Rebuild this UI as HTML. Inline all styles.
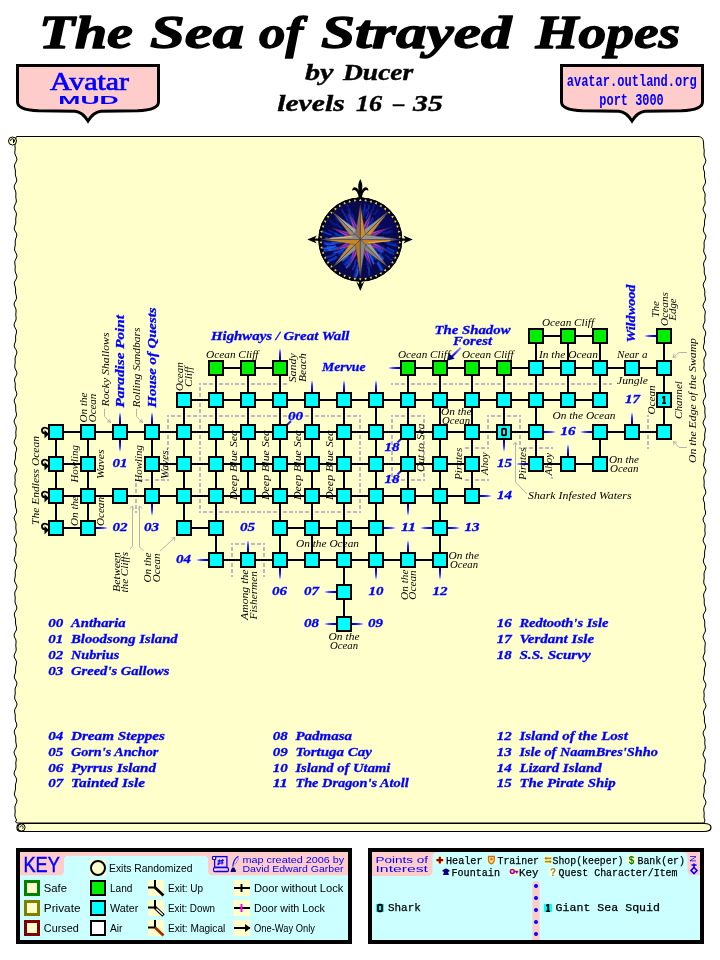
<!DOCTYPE html>
<html><head><meta charset="utf-8"><title>The Sea of Strayed Hopes</title>
<style>
html,body{margin:0;padding:0;background:#fff;}
body{width:720px;height:960px;overflow:hidden;font-family:"Liberation Serif",serif;}
svg{display:block;will-change:transform;}
</style></head><body>
<svg width="720" height="960" viewBox="0 0 720 960">
<defs>
<linearGradient id="gU" x1="0" y1="1" x2="0" y2="0"><stop offset="0" stop-color="#000090"/><stop offset="0.3" stop-color="#0000f0"/><stop offset="0.65" stop-color="#3838ff"/><stop offset="1" stop-color="#c8c8ff"/></linearGradient>
<linearGradient id="gD" x1="0" y1="0" x2="0" y2="1"><stop offset="0" stop-color="#000090"/><stop offset="0.3" stop-color="#0000f0"/><stop offset="0.65" stop-color="#3838ff"/><stop offset="1" stop-color="#c8c8ff"/></linearGradient>
<linearGradient id="gL" x1="1" y1="0" x2="0" y2="0"><stop offset="0" stop-color="#000090"/><stop offset="0.3" stop-color="#0000f0"/><stop offset="0.65" stop-color="#3838ff"/><stop offset="1" stop-color="#c8c8ff"/></linearGradient>
<linearGradient id="gR" x1="0" y1="0" x2="1" y2="0"><stop offset="0" stop-color="#000090"/><stop offset="0.3" stop-color="#0000f0"/><stop offset="0.65" stop-color="#3838ff"/><stop offset="1" stop-color="#c8c8ff"/></linearGradient>
</defs>
<rect width="720" height="960" fill="#fff"/>

<text x="39" y="47.8" font-size="46.5" font-family="Liberation Serif, serif" fill="#000" font-weight="bold" font-style="italic" textLength="94" lengthAdjust="spacingAndGlyphs" stroke="#000" stroke-width="1.3" stroke-linejoin="round">The</text>
<text x="150" y="47.8" font-size="46.5" font-family="Liberation Serif, serif" fill="#000" font-weight="bold" font-style="italic" textLength="94" lengthAdjust="spacingAndGlyphs" stroke="#000" stroke-width="1.3" stroke-linejoin="round">Sea</text>
<text x="259" y="47.8" font-size="46.5" font-family="Liberation Serif, serif" fill="#000" font-weight="bold" font-style="italic" textLength="44" lengthAdjust="spacingAndGlyphs" stroke="#000" stroke-width="1.3" stroke-linejoin="round">of</text>
<text x="321" y="47.8" font-size="46.5" font-family="Liberation Serif, serif" fill="#000" font-weight="bold" font-style="italic" textLength="190.5" lengthAdjust="spacingAndGlyphs" stroke="#000" stroke-width="1.3" stroke-linejoin="round">Strayed</text>
<text x="535.5" y="47.8" font-size="46.5" font-family="Liberation Serif, serif" fill="#000" font-weight="bold" font-style="italic" textLength="144.5" lengthAdjust="spacingAndGlyphs" stroke="#000" stroke-width="1.3" stroke-linejoin="round">Hopes</text>
<text x="305" y="80" font-size="23" font-family="Liberation Serif, serif" fill="#000" font-weight="bold" font-style="italic" textLength="28.5" lengthAdjust="spacingAndGlyphs" stroke="#000" stroke-width="0.4">by</text>
<text x="343" y="80" font-size="23" font-family="Liberation Serif, serif" fill="#000" font-weight="bold" font-style="italic" textLength="70.3" lengthAdjust="spacingAndGlyphs" stroke="#000" stroke-width="0.4">Ducer</text>
<text x="277.2" y="111" font-size="23" font-family="Liberation Serif, serif" fill="#000" font-weight="bold" font-style="italic" textLength="67.5" lengthAdjust="spacingAndGlyphs" stroke="#000" stroke-width="0.4">levels</text>
<text x="356" y="111" font-size="23" font-family="Liberation Serif, serif" fill="#000" font-weight="bold" font-style="italic" textLength="26.2" lengthAdjust="spacingAndGlyphs" stroke="#000" stroke-width="0.4">16</text>
<text x="393.3" y="111" font-size="23" font-family="Liberation Serif, serif" fill="#000" font-weight="bold" font-style="italic" textLength="11.1" lengthAdjust="spacingAndGlyphs" stroke="#000" stroke-width="0.4">–</text>
<text x="413" y="111" font-size="23" font-family="Liberation Serif, serif" fill="#000" font-weight="bold" font-style="italic" textLength="29.8" lengthAdjust="spacingAndGlyphs" stroke="#000" stroke-width="0.4">35</text>
<path d="M17.5,65.5 L158.5,65.5 L158.5,102 C158.5,108 149.5,110.3 137.5,110.8 L101,111.3 C95,111.8 91.5,115.5 88,121 C84.5,115.5 81,111.8 75,111.3 L38.5,110.8 C26.5,110.3 17.5,108 17.5,102 Z" fill="#ffcccc" stroke="#000" stroke-width="3" stroke-linejoin="miter"/>
<path d="M561.5,65.5 L702.5,65.5 L702.5,102 C702.5,108 693.5,110.3 681.5,110.8 L645,111.3 C639,111.8 635.5,115.5 632,121 C628.5,115.5 625,111.8 619,111.3 L582.5,110.8 C570.5,110.3 561.5,108 561.5,102 Z" fill="#ffcccc" stroke="#000" stroke-width="3" stroke-linejoin="miter"/>
<text x="50" y="89.6" font-size="24.5" font-family="Liberation Serif, serif" fill="#0000ff" textLength="79" lengthAdjust="spacingAndGlyphs" stroke="#0000ff" stroke-width="0.7">Avatar</text>
<text x="58.3" y="103.6" font-size="10.8" font-family="Liberation Sans, sans-serif" fill="#0000ff" font-weight="bold" textLength="60.5" lengthAdjust="spacingAndGlyphs" >MUD</text>
<text x="566.7" y="85.8" font-size="17" font-family="Liberation Mono, monospace" fill="#0000ff" font-weight="bold" textLength="130" lengthAdjust="spacingAndGlyphs" >avatar.outland.org</text>
<text x="599.3" y="105" font-size="17" font-family="Liberation Mono, monospace" fill="#0000ff" font-weight="bold" textLength="64.5" lengthAdjust="spacingAndGlyphs" >port 3000</text>
<path d="M17,136.5 L698,136.5 Q703,136.5 703.5,142 L703.7,146.0 L703.8,148.0 L704.2,150.0 L704.2,152.0 L704.0,154.0 L704.2,156.0 L705.0,158.0 L705.8,160.0 L705.7,162.0 L704.7,164.0 L703.6,166.0 L703.3,168.0 L703.8,170.0 L704.5,172.0 L704.6,174.0 L704.5,176.0 L704.8,178.0 L705.4,180.0 L705.6,182.0 L705.0,184.0 L703.8,186.0 L703.0,188.0 L703.4,190.0 L704.4,192.0 L705.1,194.0 L705.1,196.0 L704.8,198.0 L704.9,200.0 L705.2,202.0 L705.0,204.0 L704.1,206.0 L703.2,208.0 L703.1,210.0 L704.1,212.0 L705.2,214.0 L705.6,216.0 L705.2,218.0 L704.7,220.0 L704.5,222.0 L704.6,224.0 L704.3,226.0 L703.6,228.0 L703.3,230.0 L703.8,232.0 L705.0,234.0 L705.9,236.0 L705.7,238.0 L704.8,240.0 L704.1,242.0 L704.1,244.0 L704.2,246.0 L704.1,248.0 L703.7,250.0 L703.8,252.0 L704.7,254.0 L705.7,256.0 L705.9,258.0 L705.1,260.0 L704.0,262.0 L703.5,264.0 L703.8,266.0 L704.3,268.0 L704.3,270.0 L704.2,272.0 L704.5,274.0 L705.3,276.0 L705.8,278.0 L705.4,280.0 L704.2,282.0 L703.3,284.0 L703.3,286.0 L704.1,288.0 L704.7,290.0 L704.8,292.0 L704.7,294.0 L704.9,296.0 L705.4,298.0 L705.4,300.0 L704.5,302.0 L703.4,304.0 L703.0,306.0 L703.7,308.0 L704.8,310.0 L705.3,312.0 L705.1,314.0 L704.8,316.0 L704.8,318.0 L705.0,320.0 L704.7,322.0 L703.8,324.0 L703.1,326.0 L703.4,328.0 L704.6,330.0 L705.6,332.0 L705.7,334.0 L705.0,336.0 L704.4,338.0 L704.4,340.0 L704.5,342.0 L704.1,344.0 L703.5,346.0 L703.4,348.0 L704.3,350.0 L705.5,352.0 L706.0,354.0 L705.4,356.0 L704.4,358.0 L703.8,360.0 L704.0,362.0 L704.2,364.0 L704.1,366.0 L703.8,368.0 L704.2,370.0 L705.1,372.0 L705.9,374.0 L705.7,376.0 L704.6,378.0 L703.6,380.0 L703.4,382.0 L703.9,384.0 L704.4,386.0 L704.4,388.0 L704.4,390.0 L704.8,392.0 L705.5,394.0 L705.7,396.0 L705.0,398.0 L703.7,400.0 L703.1,402.0 L703.5,404.0 L704.4,406.0 L705.0,408.0 L704.9,410.0 L704.8,412.0 L705.0,414.0 L705.3,416.0 L705.1,418.0 L704.1,420.0 L703.1,422.0 L703.2,424.0 L704.2,426.0 L705.2,428.0 L705.5,430.0 L705.1,432.0 L704.7,434.0 L704.7,436.0 L704.8,438.0 L704.3,440.0 L703.5,442.0 L703.2,444.0 L703.8,446.0 L705.1,448.0 L705.8,450.0 L705.5,452.0 L704.7,454.0 L704.2,456.0 L704.3,458.0 L704.3,460.0 L704.0,462.0 L703.5,464.0 L703.7,466.0 L704.7,468.0 L705.8,470.0 L705.9,472.0 L705.0,474.0 L704.0,476.0 L703.7,478.0 L704.0,480.0 L704.2,482.0 L704.1,484.0 L704.0,486.0 L704.5,488.0 L705.4,490.0 L705.9,492.0 L705.4,494.0 L704.1,496.0 L703.3,498.0 L703.4,500.0 L704.2,502.0 L704.6,504.0 L704.6,506.0 L704.6,508.0 L705.0,510.0 L705.6,512.0 L705.5,514.0 L704.5,516.0 L703.3,518.0 L703.1,520.0 L703.8,522.0 L704.8,524.0 L705.2,526.0 L705.0,528.0 L704.8,530.0 L705.0,532.0 L705.2,534.0 L704.7,536.0 L703.7,538.0 L703.0,540.0 L703.5,542.0 L704.6,544.0 L705.5,546.0 L705.5,548.0 L704.9,550.0 L704.6,552.0 L704.6,554.0 L704.6,556.0 L704.1,558.0 L703.4,560.0 L703.4,562.0 L704.3,564.0 L705.5,566.0 L705.9,568.0 L705.3,570.0 L704.4,572.0 L704.0,574.0 L704.1,576.0 L704.2,578.0 L703.9,580.0 L703.7,582.0 L704.1,584.0 L705.2,586.0 L706.0,588.0 L705.7,590.0 L704.6,592.0 L703.7,594.0 L703.6,596.0 L704.0,598.0 L704.3,600.0 L704.2,602.0 L704.3,604.0 L704.8,606.0 L705.6,608.0 L705.8,610.0 L704.9,612.0 L703.7,614.0 L703.2,616.0 L703.6,618.0 L704.4,620.0 L704.8,622.0 L704.7,624.0 L704.7,626.0 L705.1,628.0 L705.5,630.0 L705.1,632.0 L704.0,634.0 L703.1,636.0 L703.2,638.0 L704.2,640.0 L705.1,642.0 L705.3,644.0 L705.0,646.0 L704.8,648.0 L704.9,650.0 L704.9,652.0 L704.3,654.0 L703.4,656.0 L703.1,658.0 L703.9,660.0 L705.1,662.0 L705.7,664.0 L705.4,666.0 L704.7,668.0 L704.4,670.0 L704.4,672.0 L704.4,674.0 L703.9,676.0 L703.4,678.0 L703.7,680.0 L704.8,682.0 L705.8,684.0 L705.8,686.0 L705.0,688.0 L704.1,690.0 L703.8,692.0 L704.1,694.0 L704.2,696.0 L703.9,698.0 L703.9,700.0 L704.5,702.0 L705.5,704.0 L706.0,706.0 L705.3,708.0 L704.1,710.0 L703.4,712.0 L703.6,714.0 L704.2,716.0 L704.5,718.0 L704.4,720.0 L704.5,722.0 L705.1,724.0 L705.7,726.0 L705.5,728.0 L704.4,730.0 L703.3,732.0 L703.1,734.0 L703.9,736.0 L704.7,738.0 L705.0,740.0 L704.8,742.0 L704.8,744.0 L705.2,746.0 L705.3,748.0 L704.7,750.0 L703.6,752.0 L703.0,754.0 L703.5,756.0 L704.7,758.0 L705.4,760.0 L705.3,762.0 L704.9,764.0 L704.7,766.0 L704.8,768.0 L704.7,770.0 L704.0,772.0 L703.2,774.0 L703.3,776.0 L704.4,778.0 L705.5,780.0 L705.8,782.0 L705.2,784.0 L704.4,786.0 L704.2,788.0 L704.3,790.0 L704.2,792.0 L703.7,794.0 L703.5,796.0 L704.1,798.0 L705.3,800.0 L706.0,802.0 L705.6,804.0 L704.5,806.0 L703.8,808.0 L703.7,810.0 L704.1,812.0 L704.2,814.0 L704.0,816.0 L704.1,818.0 L704.9,820.0 L704.5,822.0 L704,823 L17,823 L15.5,822.0 L16.6,820.0 L15.6,818.0 L14.9,816.0 L14.9,814.0 L15.2,812.0 L15.1,810.0 L14.9,808.0 L15.0,806.0 L15.8,804.0 L16.8,802.0 L16.9,800.0 L15.9,798.0 L14.8,796.0 L14.3,794.0 L14.8,792.0 L15.3,790.0 L15.5,788.0 L15.4,786.0 L15.6,784.0 L16.3,782.0 L16.7,780.0 L16.2,778.0 L15.0,776.0 L14.1,774.0 L14.3,772.0 L15.2,770.0 L15.9,768.0 L16.0,766.0 L15.8,764.0 L15.9,762.0 L16.3,760.0 L16.2,758.0 L15.3,756.0 L14.3,754.0 L14.0,752.0 L14.9,750.0 L16.0,748.0 L16.5,746.0 L16.2,744.0 L15.8,742.0 L15.7,740.0 L15.8,738.0 L15.5,736.0 L14.7,734.0 L14.2,732.0 L14.6,730.0 L15.8,728.0 L16.7,726.0 L16.7,724.0 L15.9,722.0 L15.3,720.0 L15.2,718.0 L15.3,716.0 L15.1,714.0 L14.6,712.0 L14.6,710.0 L15.5,708.0 L16.6,706.0 L17.0,704.0 L16.3,702.0 L15.2,700.0 L14.6,698.0 L14.8,696.0 L15.2,694.0 L15.2,692.0 L15.0,690.0 L15.3,688.0 L16.2,686.0 L16.9,684.0 L16.6,682.0 L15.5,680.0 L14.4,678.0 L14.3,676.0 L15.0,674.0 L15.6,672.0 L15.6,670.0 L15.6,668.0 L15.9,666.0 L16.4,664.0 L16.6,662.0 L15.8,660.0 L14.6,658.0 L14.0,656.0 L14.6,654.0 L15.6,652.0 L16.2,650.0 L16.1,648.0 L15.8,646.0 L15.9,644.0 L16.1,642.0 L15.9,640.0 L14.9,638.0 L14.1,636.0 L14.3,634.0 L15.3,632.0 L16.4,630.0 L16.6,628.0 L16.1,626.0 L15.6,624.0 L15.5,622.0 L15.6,620.0 L15.2,618.0 L14.5,616.0 L14.3,614.0 L15.0,612.0 L16.2,610.0 L16.9,608.0 L16.5,606.0 L15.6,604.0 L15.0,602.0 L15.1,600.0 L15.2,598.0 L15.0,596.0 L14.7,594.0 L14.9,592.0 L15.9,590.0 L16.8,588.0 L16.9,586.0 L15.9,584.0 L14.8,582.0 L14.5,580.0 L14.9,578.0 L15.3,576.0 L15.3,574.0 L15.2,572.0 L15.6,570.0 L16.5,568.0 L16.8,566.0 L16.2,564.0 L15.0,562.0 L14.2,560.0 L14.4,558.0 L15.2,556.0 L15.8,554.0 L15.8,552.0 L15.7,550.0 L16.0,548.0 L16.4,546.0 L16.3,544.0 L15.3,542.0 L14.2,540.0 L14.1,538.0 L14.9,536.0 L16.0,534.0 L16.4,532.0 L16.1,530.0 L15.8,528.0 L15.9,526.0 L16.0,524.0 L15.5,522.0 L14.6,520.0 L14.1,518.0 L14.6,516.0 L15.8,514.0 L16.7,512.0 L16.6,510.0 L15.9,508.0 L15.4,506.0 L15.4,504.0 L15.4,502.0 L15.0,500.0 L14.5,498.0 L14.5,496.0 L15.5,494.0 L16.6,492.0 L16.9,490.0 L16.2,488.0 L15.2,486.0 L14.8,484.0 L15.0,482.0 L15.2,480.0 L15.0,478.0 L14.9,476.0 L15.3,474.0 L16.3,472.0 L16.9,470.0 L16.6,468.0 L15.4,466.0 L14.5,464.0 L14.5,462.0 L15.0,460.0 L15.5,458.0 L15.4,456.0 L15.4,454.0 L15.9,452.0 L16.6,450.0 L16.6,448.0 L15.7,446.0 L14.5,444.0 L14.1,442.0 L14.7,440.0 L15.6,438.0 L16.0,436.0 L15.9,434.0 L15.8,432.0 L16.1,430.0 L16.3,428.0 L15.9,426.0 L14.9,424.0 L14.1,422.0 L14.3,420.0 L15.4,418.0 L16.3,416.0 L16.5,414.0 L16.0,412.0 L15.7,410.0 L15.7,408.0 L15.7,406.0 L15.2,404.0 L14.4,402.0 L14.2,400.0 L15.1,398.0 L16.3,396.0 L16.9,394.0 L16.4,392.0 L15.6,390.0 L15.2,388.0 L15.2,386.0 L15.3,384.0 L14.9,382.0 L14.5,380.0 L14.9,378.0 L16.0,376.0 L16.9,374.0 L16.8,372.0 L15.8,370.0 L14.9,368.0 L14.7,366.0 L15.0,364.0 L15.2,362.0 L15.1,360.0 L15.1,358.0 L15.7,356.0 L16.6,354.0 L16.9,352.0 L16.2,350.0 L14.9,348.0 L14.2,346.0 L14.5,344.0 L15.3,342.0 L15.7,340.0 L15.6,338.0 L15.6,336.0 L16.1,334.0 L16.6,332.0 L16.3,330.0 L15.2,328.0 L14.2,326.0 L14.1,324.0 L15.0,322.0 L15.9,320.0 L16.2,318.0 L15.9,316.0 L15.8,314.0 L16.0,312.0 L16.1,310.0 L15.5,308.0 L14.5,306.0 L14.0,304.0 L14.7,302.0 L15.9,300.0 L16.6,298.0 L16.4,296.0 L15.8,294.0 L15.5,292.0 L15.6,290.0 L15.5,288.0 L14.9,286.0 L14.3,284.0 L14.5,282.0 L15.6,280.0 L16.7,278.0 L16.9,276.0 L16.1,274.0 L15.3,272.0 L15.0,270.0 L15.2,268.0 L15.2,266.0 L14.9,264.0 L14.7,262.0 L15.3,260.0 L16.4,258.0 L17.0,256.0 L16.5,254.0 L15.4,252.0 L14.6,250.0 L14.6,248.0 L15.1,246.0 L15.3,244.0 L15.2,242.0 L15.3,240.0 L16.0,238.0 L16.7,236.0 L16.7,234.0 L15.7,232.0 L14.5,230.0 L14.2,228.0 L14.8,226.0 L15.6,224.0 L15.8,222.0 L15.7,220.0 L15.8,218.0 L16.2,216.0 L16.5,214.0 L15.9,212.0 L14.8,210.0 L14.0,208.0 L14.4,206.0 L15.4,204.0 L16.3,202.0 L16.3,200.0 L15.9,198.0 L15.8,196.0 L15.9,194.0 L15.8,192.0 L15.1,190.0 L14.3,188.0 L14.2,186.0 L15.1,184.0 L16.3,182.0 L16.8,180.0 L16.3,178.0 L15.6,176.0 L15.3,174.0 L15.4,172.0 L15.3,170.0 L14.8,168.0 L14.4,166.0 L14.9,164.0 L16.0,162.0 L16.9,160.0 L16.7,158.0 L15.8,156.0 L14.9,154.0 L14.8,152.0 L15.1,150.0 L15.2,148.0 L14.9,146.0 L16,137 Z" fill="#ffffcc" stroke="#000" stroke-width="1"/>
<circle cx="12.5" cy="141" r="4" fill="#ffffcc" stroke="#000" stroke-width="1"/>
<path d="M10.5,141 a2,2 0 1,1 3,1.5 M13.5,139.5 L13.5,143" fill="none" stroke="#000" stroke-width="1"/>
<path d="M21,823.5 L704,823.5 Q711,823.5 711,827.5 Q711,831.5 704,831.5 L21,831.5 Q17,831.5 17,827.5 Q17,823.5 21,823.5 Z" fill="#ffffcc" stroke="#000" stroke-width="1.2"/>
<circle cx="21.5" cy="827.5" r="3.6" fill="#ffffcc" stroke="#000" stroke-width="1"/>
<path d="M20,827.5 a1.6,1.6 0 1,1 2.5,1.2" fill="none" stroke="#000" stroke-width="1"/>
<path d="M199,384 L289,384" stroke="#b9b9c6" stroke-width="2" fill="none" stroke-dasharray="2 2 4 2 4 2"/>
<path d="M200,383 L200,513" stroke="#b9b9c6" stroke-width="2" fill="none" stroke-dasharray="2 2 4 2 4 2"/>
<path d="M199,512 L361,512" stroke="#b9b9c6" stroke-width="2" fill="none" stroke-dasharray="2 2 4 2 4 2"/>
<path d="M360,415 L360,513" stroke="#b9b9c6" stroke-width="2" fill="none" stroke-dasharray="2 2 4 2 4 2"/>
<path d="M167,416 L361,416" stroke="#b9b9c6" stroke-width="2" fill="none" stroke-dasharray="2 2 4 2 4 2"/>
<path d="M168,415 L168,481" stroke="#b9b9c6" stroke-width="2" fill="none" stroke-dasharray="2 2 4 2 4 2"/>
<path d="M135,480 L169,480" stroke="#b9b9c6" stroke-width="2" fill="none" stroke-dasharray="2 2 4 2 4 2"/>
<path d="M136,479 L136,513" stroke="#b9b9c6" stroke-width="2" fill="none" stroke-dasharray="2 2 4 2 4 2"/>
<path d="M391,384 L612,384" stroke="#b9b9c6" stroke-width="2" fill="none" stroke-dasharray="2 2 4 2 4 2"/>
<path d="M391,416 L425,416" stroke="#b9b9c6" stroke-width="2" fill="none" stroke-dasharray="2 2 4 2 4 2"/>
<path d="M392,415 L392,481" stroke="#b9b9c6" stroke-width="2" fill="none" stroke-dasharray="2 2 4 2 4 2"/>
<path d="M424,415 L424,481" stroke="#b9b9c6" stroke-width="2" fill="none" stroke-dasharray="2 2 4 2 4 2"/>
<path d="M391,480 L425,480" stroke="#b9b9c6" stroke-width="2" fill="none" stroke-dasharray="2 2 4 2 4 2"/>
<path d="M463,448 L489,448" stroke="#b9b9c6" stroke-width="2" fill="none" stroke-dasharray="2 2 4 2 4 2" stroke-dashoffset="8"/>
<path d="M463,480 L489,480" stroke="#b9b9c6" stroke-width="2" fill="none" stroke-dasharray="2 2 4 2 4 2" stroke-dashoffset="8"/>
<path d="M488,415 L488,449" stroke="#b9b9c6" stroke-width="2" fill="none" stroke-dasharray="2 2 4 2 4 2"/>
<path d="M487,416 L521,416" stroke="#b9b9c6" stroke-width="2" fill="none" stroke-dasharray="2 2 4 2 4 2"/>
<path d="M520,415 L520,449" stroke="#b9b9c6" stroke-width="2" fill="none" stroke-dasharray="2 2 4 2 4 2"/>
<path d="M519,448 L553,448" stroke="#b9b9c6" stroke-width="2" fill="none" stroke-dasharray="2 2 4 2 4 2"/>
<path d="M552,477 L552,481" stroke="#b9b9c6" stroke-width="2" fill="none" stroke-dasharray="2 2 4 2 4 2"/>
<path d="M648,415 L648,449" stroke="#b9b9c6" stroke-width="2" fill="none" stroke-dasharray="2 2 4 2 4 2"/>
<path d="M231,544 L265,544" stroke="#b9b9c6" stroke-width="2" fill="none" stroke-dasharray="2 2 4 2 4 2"/>
<path d="M232,543 L232,577" stroke="#b9b9c6" stroke-width="2" fill="none" stroke-dasharray="2 2 4 2 4 2"/>
<path d="M264,543 L264,577" stroke="#b9b9c6" stroke-width="2" fill="none" stroke-dasharray="2 2 4 2 4 2"/>
<rect x="536" y="335" width="64" height="2" fill="#000"/>
<rect x="216" y="367" width="64" height="2" fill="#000"/>
<rect x="408" y="367" width="256" height="2" fill="#000"/>
<rect x="184" y="399" width="416" height="2" fill="#000"/>
<rect x="56" y="431" width="480" height="2" fill="#000"/>
<rect x="600" y="431" width="64" height="2" fill="#000"/>
<rect x="56" y="463" width="32" height="2" fill="#000"/>
<rect x="152" y="463" width="320" height="2" fill="#000"/>
<rect x="536" y="463" width="64" height="2" fill="#000"/>
<rect x="56" y="495" width="416" height="2" fill="#000"/>
<rect x="56" y="527" width="32" height="2" fill="#000"/>
<rect x="184" y="527" width="32" height="2" fill="#000"/>
<rect x="280" y="527" width="96" height="2" fill="#000"/>
<rect x="216" y="559" width="224" height="2" fill="#000"/>
<rect x="55" y="432" width="2" height="96" fill="#000"/>
<rect x="87" y="432" width="2" height="96" fill="#000"/>
<rect x="151" y="432" width="2" height="64" fill="#000"/>
<rect x="183" y="400" width="2" height="128" fill="#000"/>
<rect x="215" y="368" width="2" height="192" fill="#000"/>
<rect x="247" y="368" width="2" height="128" fill="#000"/>
<rect x="279" y="368" width="2" height="192" fill="#000"/>
<rect x="311" y="400" width="2" height="160" fill="#000"/>
<rect x="343" y="400" width="2" height="224" fill="#000"/>
<rect x="375" y="400" width="2" height="160" fill="#000"/>
<rect x="407" y="368" width="2" height="128" fill="#000"/>
<rect x="439" y="368" width="2" height="192" fill="#000"/>
<rect x="471" y="368" width="2" height="128" fill="#000"/>
<rect x="503" y="368" width="2" height="64" fill="#000"/>
<rect x="535" y="336" width="2" height="128" fill="#000"/>
<rect x="567" y="336" width="2" height="64" fill="#000"/>
<rect x="599" y="336" width="2" height="64" fill="#000"/>
<rect x="599" y="432" width="2" height="32" fill="#000"/>
<rect x="663" y="336" width="2" height="96" fill="#000"/>
<rect x="119" y="413" width="2" height="12" fill="url(#gU)"/>
<rect x="119" y="439" width="2" height="12" fill="url(#gD)"/>
<rect x="151" y="413" width="2" height="12" fill="url(#gU)"/>
<rect x="151" y="503" width="2" height="12" fill="url(#gD)"/>
<rect x="279" y="349" width="2" height="12" fill="url(#gU)"/>
<rect x="311" y="381" width="2" height="12" fill="url(#gU)"/>
<rect x="343" y="381" width="2" height="12" fill="url(#gU)"/>
<rect x="375" y="381" width="2" height="12" fill="url(#gU)"/>
<rect x="389" y="367" width="12" height="2" fill="url(#gL)"/>
<rect x="407" y="503" width="2" height="12" fill="url(#gD)"/>
<rect x="407" y="541" width="2" height="12" fill="url(#gU)"/>
<rect x="247" y="541" width="2" height="12" fill="url(#gU)"/>
<rect x="279" y="567" width="2" height="12" fill="url(#gD)"/>
<rect x="375" y="567" width="2" height="12" fill="url(#gD)"/>
<rect x="439" y="567" width="2" height="12" fill="url(#gD)"/>
<rect x="95" y="527" width="12" height="2" fill="url(#gR)"/>
<rect x="197" y="559" width="12" height="2" fill="url(#gL)"/>
<rect x="325" y="591" width="12" height="2" fill="url(#gL)"/>
<rect x="325" y="623" width="12" height="2" fill="url(#gL)"/>
<rect x="351" y="623" width="12" height="2" fill="url(#gR)"/>
<rect x="383" y="527" width="12" height="2" fill="url(#gR)"/>
<rect x="421" y="527" width="12" height="2" fill="url(#gL)"/>
<rect x="447" y="527" width="12" height="2" fill="url(#gR)"/>
<rect x="479" y="495" width="12" height="2" fill="url(#gR)"/>
<rect x="503" y="439" width="2" height="12" fill="url(#gD)"/>
<rect x="517" y="463" width="12" height="2" fill="url(#gL)"/>
<rect x="543" y="431" width="12" height="2" fill="url(#gR)"/>
<rect x="581" y="431" width="12" height="2" fill="url(#gL)"/>
<rect x="567" y="445" width="2" height="12" fill="url(#gU)"/>
<rect x="631" y="413" width="2" height="12" fill="url(#gU)"/>
<rect x="645" y="335" width="12" height="2" fill="url(#gL)"/>
<path d="M287,425 L291,421" stroke="#2828d8" stroke-width="2" fill="none"/>
<path d="M401,439 L397.5,442.5" stroke="#2828d8" stroke-width="2" fill="none"/>
<path d="M401,471 L397.5,474.5" stroke="#2828d8" stroke-width="2" fill="none"/>
<linearGradient id="gA" gradientUnits="userSpaceOnUse" x1="461" y1="347.5" x2="450" y2="358"><stop offset="0" stop-color="#a8a8ff"/><stop offset="0.6" stop-color="#2020f0"/><stop offset="1" stop-color="#000090"/></linearGradient>
<path d="M461,347.5 L451,357.5" stroke="url(#gA)" stroke-width="2.2" fill="none"/>
<path d="M447.5,360.5 L449.3,353.5 L454.7,358.7 Z" fill="#000090"/>
<rect x="529" y="329" width="14" height="14" fill="#00ee00" stroke="#000" stroke-width="2"/>
<rect x="561" y="329" width="14" height="14" fill="#00ee00" stroke="#000" stroke-width="2"/>
<rect x="593" y="329" width="14" height="14" fill="#00ee00" stroke="#000" stroke-width="2"/>
<rect x="657" y="329" width="14" height="14" fill="#00ee00" stroke="#000" stroke-width="2"/>
<rect x="209" y="361" width="14" height="14" fill="#00ee00" stroke="#000" stroke-width="2"/>
<rect x="241" y="361" width="14" height="14" fill="#00ee00" stroke="#000" stroke-width="2"/>
<rect x="273" y="361" width="14" height="14" fill="#00ee00" stroke="#000" stroke-width="2"/>
<rect x="401" y="361" width="14" height="14" fill="#00ee00" stroke="#000" stroke-width="2"/>
<rect x="433" y="361" width="14" height="14" fill="#00ee00" stroke="#000" stroke-width="2"/>
<rect x="465" y="361" width="14" height="14" fill="#00ee00" stroke="#000" stroke-width="2"/>
<rect x="497" y="361" width="14" height="14" fill="#00ee00" stroke="#000" stroke-width="2"/>
<rect x="529" y="361" width="14" height="14" fill="#00ffff" stroke="#000" stroke-width="2"/>
<rect x="561" y="361" width="14" height="14" fill="#00ffff" stroke="#000" stroke-width="2"/>
<rect x="593" y="361" width="14" height="14" fill="#00ffff" stroke="#000" stroke-width="2"/>
<rect x="625" y="361" width="14" height="14" fill="#00ffff" stroke="#000" stroke-width="2"/>
<rect x="657" y="361" width="14" height="14" fill="#00ffff" stroke="#000" stroke-width="2"/>
<rect x="177" y="393" width="14" height="14" fill="#00ffff" stroke="#000" stroke-width="2"/>
<rect x="209" y="393" width="14" height="14" fill="#00ffff" stroke="#000" stroke-width="2"/>
<rect x="241" y="393" width="14" height="14" fill="#00ffff" stroke="#000" stroke-width="2"/>
<rect x="273" y="393" width="14" height="14" fill="#00ffff" stroke="#000" stroke-width="2"/>
<rect x="305" y="393" width="14" height="14" fill="#00ffff" stroke="#000" stroke-width="2"/>
<rect x="337" y="393" width="14" height="14" fill="#00ffff" stroke="#000" stroke-width="2"/>
<rect x="369" y="393" width="14" height="14" fill="#00ffff" stroke="#000" stroke-width="2"/>
<rect x="401" y="393" width="14" height="14" fill="#00ffff" stroke="#000" stroke-width="2"/>
<rect x="433" y="393" width="14" height="14" fill="#00ffff" stroke="#000" stroke-width="2"/>
<rect x="465" y="393" width="14" height="14" fill="#00ffff" stroke="#000" stroke-width="2"/>
<rect x="497" y="393" width="14" height="14" fill="#00ffff" stroke="#000" stroke-width="2"/>
<rect x="529" y="393" width="14" height="14" fill="#00ffff" stroke="#000" stroke-width="2"/>
<rect x="561" y="393" width="14" height="14" fill="#00ffff" stroke="#000" stroke-width="2"/>
<rect x="593" y="393" width="14" height="14" fill="#00ffff" stroke="#000" stroke-width="2"/>
<rect x="657" y="393" width="14" height="14" fill="#00ffff" stroke="#000" stroke-width="2"/>
<rect x="49" y="425" width="14" height="14" fill="#00ffff" stroke="#000" stroke-width="2"/>
<rect x="81" y="425" width="14" height="14" fill="#00ffff" stroke="#000" stroke-width="2"/>
<rect x="113" y="425" width="14" height="14" fill="#00ffff" stroke="#000" stroke-width="2"/>
<rect x="145" y="425" width="14" height="14" fill="#00ffff" stroke="#000" stroke-width="2"/>
<rect x="177" y="425" width="14" height="14" fill="#00ffff" stroke="#000" stroke-width="2"/>
<rect x="209" y="425" width="14" height="14" fill="#00ffff" stroke="#000" stroke-width="2"/>
<rect x="241" y="425" width="14" height="14" fill="#00ffff" stroke="#000" stroke-width="2"/>
<rect x="273" y="425" width="14" height="14" fill="#00ffff" stroke="#000" stroke-width="2"/>
<rect x="305" y="425" width="14" height="14" fill="#00ffff" stroke="#000" stroke-width="2"/>
<rect x="337" y="425" width="14" height="14" fill="#00ffff" stroke="#000" stroke-width="2"/>
<rect x="369" y="425" width="14" height="14" fill="#00ffff" stroke="#000" stroke-width="2"/>
<rect x="401" y="425" width="14" height="14" fill="#00ffff" stroke="#000" stroke-width="2"/>
<rect x="433" y="425" width="14" height="14" fill="#00ffff" stroke="#000" stroke-width="2"/>
<rect x="465" y="425" width="14" height="14" fill="#00ffff" stroke="#000" stroke-width="2"/>
<rect x="497" y="425" width="14" height="14" fill="#00ffff" stroke="#000" stroke-width="2"/>
<rect x="529" y="425" width="14" height="14" fill="#00ffff" stroke="#000" stroke-width="2"/>
<rect x="593" y="425" width="14" height="14" fill="#00ffff" stroke="#000" stroke-width="2"/>
<rect x="625" y="425" width="14" height="14" fill="#00ffff" stroke="#000" stroke-width="2"/>
<rect x="657" y="425" width="14" height="14" fill="#00ffff" stroke="#000" stroke-width="2"/>
<rect x="49" y="457" width="14" height="14" fill="#00ffff" stroke="#000" stroke-width="2"/>
<rect x="81" y="457" width="14" height="14" fill="#00ffff" stroke="#000" stroke-width="2"/>
<rect x="145" y="457" width="14" height="14" fill="#00ffff" stroke="#000" stroke-width="2"/>
<rect x="177" y="457" width="14" height="14" fill="#00ffff" stroke="#000" stroke-width="2"/>
<rect x="209" y="457" width="14" height="14" fill="#00ffff" stroke="#000" stroke-width="2"/>
<rect x="241" y="457" width="14" height="14" fill="#00ffff" stroke="#000" stroke-width="2"/>
<rect x="273" y="457" width="14" height="14" fill="#00ffff" stroke="#000" stroke-width="2"/>
<rect x="305" y="457" width="14" height="14" fill="#00ffff" stroke="#000" stroke-width="2"/>
<rect x="337" y="457" width="14" height="14" fill="#00ffff" stroke="#000" stroke-width="2"/>
<rect x="369" y="457" width="14" height="14" fill="#00ffff" stroke="#000" stroke-width="2"/>
<rect x="401" y="457" width="14" height="14" fill="#00ffff" stroke="#000" stroke-width="2"/>
<rect x="433" y="457" width="14" height="14" fill="#00ffff" stroke="#000" stroke-width="2"/>
<rect x="465" y="457" width="14" height="14" fill="#00ffff" stroke="#000" stroke-width="2"/>
<rect x="529" y="457" width="14" height="14" fill="#00ffff" stroke="#000" stroke-width="2"/>
<rect x="561" y="457" width="14" height="14" fill="#00ffff" stroke="#000" stroke-width="2"/>
<rect x="593" y="457" width="14" height="14" fill="#00ffff" stroke="#000" stroke-width="2"/>
<rect x="49" y="489" width="14" height="14" fill="#00ffff" stroke="#000" stroke-width="2"/>
<rect x="81" y="489" width="14" height="14" fill="#00ffff" stroke="#000" stroke-width="2"/>
<rect x="113" y="489" width="14" height="14" fill="#00ffff" stroke="#000" stroke-width="2"/>
<rect x="145" y="489" width="14" height="14" fill="#00ffff" stroke="#000" stroke-width="2"/>
<rect x="177" y="489" width="14" height="14" fill="#00ffff" stroke="#000" stroke-width="2"/>
<rect x="209" y="489" width="14" height="14" fill="#00ffff" stroke="#000" stroke-width="2"/>
<rect x="241" y="489" width="14" height="14" fill="#00ffff" stroke="#000" stroke-width="2"/>
<rect x="273" y="489" width="14" height="14" fill="#00ffff" stroke="#000" stroke-width="2"/>
<rect x="305" y="489" width="14" height="14" fill="#00ffff" stroke="#000" stroke-width="2"/>
<rect x="337" y="489" width="14" height="14" fill="#00ffff" stroke="#000" stroke-width="2"/>
<rect x="369" y="489" width="14" height="14" fill="#00ffff" stroke="#000" stroke-width="2"/>
<rect x="401" y="489" width="14" height="14" fill="#00ffff" stroke="#000" stroke-width="2"/>
<rect x="433" y="489" width="14" height="14" fill="#00ffff" stroke="#000" stroke-width="2"/>
<rect x="465" y="489" width="14" height="14" fill="#00ffff" stroke="#000" stroke-width="2"/>
<rect x="49" y="521" width="14" height="14" fill="#00ffff" stroke="#000" stroke-width="2"/>
<rect x="81" y="521" width="14" height="14" fill="#00ffff" stroke="#000" stroke-width="2"/>
<rect x="177" y="521" width="14" height="14" fill="#00ffff" stroke="#000" stroke-width="2"/>
<rect x="209" y="521" width="14" height="14" fill="#00ffff" stroke="#000" stroke-width="2"/>
<rect x="273" y="521" width="14" height="14" fill="#00ffff" stroke="#000" stroke-width="2"/>
<rect x="305" y="521" width="14" height="14" fill="#00ffff" stroke="#000" stroke-width="2"/>
<rect x="337" y="521" width="14" height="14" fill="#00ffff" stroke="#000" stroke-width="2"/>
<rect x="369" y="521" width="14" height="14" fill="#00ffff" stroke="#000" stroke-width="2"/>
<rect x="433" y="521" width="14" height="14" fill="#00ffff" stroke="#000" stroke-width="2"/>
<rect x="209" y="553" width="14" height="14" fill="#00ffff" stroke="#000" stroke-width="2"/>
<rect x="241" y="553" width="14" height="14" fill="#00ffff" stroke="#000" stroke-width="2"/>
<rect x="273" y="553" width="14" height="14" fill="#00ffff" stroke="#000" stroke-width="2"/>
<rect x="305" y="553" width="14" height="14" fill="#00ffff" stroke="#000" stroke-width="2"/>
<rect x="337" y="553" width="14" height="14" fill="#00ffff" stroke="#000" stroke-width="2"/>
<rect x="369" y="553" width="14" height="14" fill="#00ffff" stroke="#000" stroke-width="2"/>
<rect x="401" y="553" width="14" height="14" fill="#00ffff" stroke="#000" stroke-width="2"/>
<rect x="433" y="553" width="14" height="14" fill="#00ffff" stroke="#000" stroke-width="2"/>
<rect x="337" y="585" width="14" height="14" fill="#00ffff" stroke="#000" stroke-width="2"/>
<rect x="337" y="617" width="14" height="14" fill="#00ffff" stroke="#000" stroke-width="2"/>
<rect x="502" y="428.8" width="4" height="6.4" rx="1" fill="none" stroke="#000" stroke-width="2"/>
<path d="M663.2,396 L665.2,396 L665.2,402.5 L666,402.5 L666,404 L662,404 L662,402.5 L663.2,402.5 L663.2,398.2 L662,398.2 L662,397 Z" fill="#000"/>
<path d="M48,429 C45,426.5 41.5,428 42,431 C42.5,433.5 44,433.5 46,433.5" fill="none" stroke="#000" stroke-width="1.8"/>
<path d="M49,434 L44.5,430 L44.5,438.5 Z" fill="#000"/>
<path d="M48,461 C45,458.5 41.5,460 42,463 C42.5,465.5 44,465.5 46,465.5" fill="none" stroke="#000" stroke-width="1.8"/>
<path d="M49,466 L44.5,462 L44.5,470.5 Z" fill="#000"/>
<path d="M48,493 C45,490.5 41.5,492 42,495 C42.5,497.5 44,497.5 46,497.5" fill="none" stroke="#000" stroke-width="1.8"/>
<path d="M49,498 L44.5,494 L44.5,502.5 Z" fill="#000"/>
<path d="M48,525 C45,522.5 41.5,524 42,527 C42.5,529.5 44,529.5 46,529.5" fill="none" stroke="#000" stroke-width="1.8"/>
<path d="M49,530 L44.5,526 L44.5,534.5 Z" fill="#000"/>
<path d="M104.5,409 L104.5,416.5 L110.5,422.5 M110.5,422.5 L107,421.5 M110.5,422.5 L109.5,419" stroke="#b4b4b4" stroke-width="1" fill="none"/>
<path d="M136.5,409 L136.5,416.5 L142.5,422.5 M142.5,422.5 L139,421.5 M142.5,422.5 L141.5,419" stroke="#b4b4b4" stroke-width="1" fill="none"/>
<path d="M130,549 L132.5,546 L132.5,506 M132.5,506 L129.5,508.5 M132.5,506 L133.5,509.5" stroke="#b4b4b4" stroke-width="1" fill="none"/>
<path d="M143.5,551 L139.5,547 L139.5,506 M139.5,506 L142.5,508.5 M139.5,506 L138.5,509.5" stroke="#b4b4b4" stroke-width="1" fill="none"/>
<path d="M160,551 L175,537.5 M175,537.5 L171.5,538 M175,537.5 L174.5,541" stroke="#b4b4b4" stroke-width="1" fill="none"/>
<path d="M687,352.5 L679,352.5 L673,357.5 M673,357.5 L676.5,357 M673,357.5 L674,354" stroke="#b4b4b4" stroke-width="1" fill="none"/>
<path d="M687,447.5 L679,447.5 L673.5,441.5 M673.5,441.5 L677,442.5 M673.5,441.5 L674,445" stroke="#b4b4b4" stroke-width="1" fill="none"/>
<path d="M527,494 L515.5,482 L515.5,442 M515.5,442 L513,445 M515.5,442 L517,445" stroke="#b4b4b4" stroke-width="1" fill="none"/>
<text x="38.5" y="525" font-size="10.5" font-family="Liberation Serif, serif" fill="#000" font-style="italic" textLength="89" lengthAdjust="spacingAndGlyphs" transform="rotate(-90 38.5 525)" >The Endless Ocean</text>
<text x="87" y="422.5" font-size="10.5" font-family="Liberation Serif, serif" fill="#000" font-style="italic" textLength="30.0" lengthAdjust="spacingAndGlyphs" transform="rotate(-90 87 422.5)" >On the</text>
<text x="96.2" y="422.2" font-size="10.5" font-family="Liberation Serif, serif" fill="#000" font-style="italic" textLength="28.5" lengthAdjust="spacingAndGlyphs" transform="rotate(-90 96.2 422.2)" >Ocean</text>
<text x="108.5" y="406.5" font-size="10.5" font-family="Liberation Serif, serif" fill="#000" font-style="italic" textLength="74.0" lengthAdjust="spacingAndGlyphs" transform="rotate(-90 108.5 406.5)" >Rocky Shallows</text>
<text x="124" y="407.5" font-size="13" font-family="Liberation Serif, serif" fill="#0000ff" font-weight="bold" font-style="italic" textLength="92.5" lengthAdjust="spacingAndGlyphs" transform="rotate(-90 124 407.5)" stroke="#0000ff" stroke-width="0.3">Paradise Point</text>
<text x="139.5" y="407.5" font-size="10.5" font-family="Liberation Serif, serif" fill="#000" font-style="italic" textLength="80.0" lengthAdjust="spacingAndGlyphs" transform="rotate(-90 139.5 407.5)" >Rolling Sandbars</text>
<text x="155.5" y="407.5" font-size="13" font-family="Liberation Serif, serif" fill="#0000ff" font-weight="bold" font-style="italic" textLength="100.0" lengthAdjust="spacingAndGlyphs" transform="rotate(-90 155.5 407.5)" stroke="#0000ff" stroke-width="0.3">House of Quests</text>
<text x="183" y="391" font-size="10.5" font-family="Liberation Serif, serif" fill="#000" font-style="italic" textLength="28.7" lengthAdjust="spacingAndGlyphs" transform="rotate(-90 183 391)" >Ocean</text>
<text x="192.2" y="387" font-size="10.5" font-family="Liberation Serif, serif" fill="#000" font-style="italic" textLength="20.5" lengthAdjust="spacingAndGlyphs" transform="rotate(-90 192.2 387)" >Cliff</text>
<text x="78" y="482.5" font-size="10.5" font-family="Liberation Serif, serif" fill="#000" font-style="italic" textLength="37.5" lengthAdjust="spacingAndGlyphs" transform="rotate(-90 78 482.5)" >Howling</text>
<text x="103.5" y="479" font-size="10.5" font-family="Liberation Serif, serif" fill="#000" font-style="italic" textLength="29.5" lengthAdjust="spacingAndGlyphs" transform="rotate(-90 103.5 479)" >Waves</text>
<text x="78" y="526" font-size="10.5" font-family="Liberation Serif, serif" fill="#000" font-style="italic" textLength="30" lengthAdjust="spacingAndGlyphs" transform="rotate(-90 78 526)" >On the</text>
<text x="104.2" y="526" font-size="10.5" font-family="Liberation Serif, serif" fill="#000" font-style="italic" textLength="29" lengthAdjust="spacingAndGlyphs" transform="rotate(-90 104.2 526)" >Ocean</text>
<text x="142" y="482.5" font-size="10.5" font-family="Liberation Serif, serif" fill="#000" font-style="italic" textLength="37.5" lengthAdjust="spacingAndGlyphs" transform="rotate(-90 142 482.5)" >Howling</text>
<text x="168" y="479" font-size="10.5" font-family="Liberation Serif, serif" fill="#000" font-style="italic" textLength="31.5" lengthAdjust="spacingAndGlyphs" transform="rotate(-90 168 479)" >Waves.</text>
<text x="236.5" y="500" font-size="10.5" font-family="Liberation Serif, serif" fill="#000" font-style="italic" textLength="70" lengthAdjust="spacingAndGlyphs" transform="rotate(-90 236.5 500)" >Deep Blue Sea</text>
<text x="268.5" y="500" font-size="10.5" font-family="Liberation Serif, serif" fill="#000" font-style="italic" textLength="70" lengthAdjust="spacingAndGlyphs" transform="rotate(-90 268.5 500)" >Deep Blue Sea</text>
<text x="300.5" y="500" font-size="10.5" font-family="Liberation Serif, serif" fill="#000" font-style="italic" textLength="70" lengthAdjust="spacingAndGlyphs" transform="rotate(-90 300.5 500)" >Deep Blue Sea</text>
<text x="332.5" y="500" font-size="10.5" font-family="Liberation Serif, serif" fill="#000" font-style="italic" textLength="70" lengthAdjust="spacingAndGlyphs" transform="rotate(-90 332.5 500)" >Deep Blue Sea</text>
<text x="296" y="382.5" font-size="10.5" font-family="Liberation Serif, serif" fill="#000" font-style="italic" textLength="29.3" lengthAdjust="spacingAndGlyphs" transform="rotate(-90 296 382.5)" >Sandy</text>
<text x="305.6" y="382" font-size="10.5" font-family="Liberation Serif, serif" fill="#000" font-style="italic" textLength="28.8" lengthAdjust="spacingAndGlyphs" transform="rotate(-90 305.6 382)" >Beach</text>
<text x="424" y="472" font-size="10.5" font-family="Liberation Serif, serif" fill="#000" font-style="italic" textLength="48.5" lengthAdjust="spacingAndGlyphs" transform="rotate(-90 424 472)" >Out to Sea</text>
<text x="461.5" y="480" font-size="10.5" font-family="Liberation Serif, serif" fill="#000" font-style="italic" textLength="32.5" lengthAdjust="spacingAndGlyphs" transform="rotate(-90 461.5 480)" >Pirates</text>
<text x="488" y="475" font-size="10.5" font-family="Liberation Serif, serif" fill="#000" font-style="italic" textLength="22.5" lengthAdjust="spacingAndGlyphs" transform="rotate(-90 488 475)" >Ahoy</text>
<text x="526" y="480" font-size="10.5" font-family="Liberation Serif, serif" fill="#000" font-style="italic" textLength="32.5" lengthAdjust="spacingAndGlyphs" transform="rotate(-90 526 480)" >Pirates</text>
<text x="552" y="475.5" font-size="10.5" font-family="Liberation Serif, serif" fill="#000" font-style="italic" textLength="22.5" lengthAdjust="spacingAndGlyphs" transform="rotate(-90 552 475.5)" >Ahoy</text>
<text x="407.5" y="600" font-size="10.5" font-family="Liberation Serif, serif" fill="#000" font-style="italic" textLength="30.5" lengthAdjust="spacingAndGlyphs" transform="rotate(-90 407.5 600)" >On the</text>
<text x="416.3" y="599.7" font-size="10.5" font-family="Liberation Serif, serif" fill="#000" font-style="italic" textLength="29.4" lengthAdjust="spacingAndGlyphs" transform="rotate(-90 416.3 599.7)" >Ocean</text>
<text x="247.5" y="620" font-size="10.5" font-family="Liberation Serif, serif" fill="#000" font-style="italic" textLength="50.5" lengthAdjust="spacingAndGlyphs" transform="rotate(-90 247.5 620)" >Among the</text>
<text x="256.5" y="619.5" font-size="10.5" font-family="Liberation Serif, serif" fill="#000" font-style="italic" textLength="48.5" lengthAdjust="spacingAndGlyphs" transform="rotate(-90 256.5 619.5)" >Fishermen</text>
<text x="119.6" y="591.9" font-size="10.5" font-family="Liberation Serif, serif" fill="#000" font-style="italic" textLength="39.9" lengthAdjust="spacingAndGlyphs" transform="rotate(-90 119.6 591.9)" >Between</text>
<text x="128.3" y="592.5" font-size="10.5" font-family="Liberation Serif, serif" fill="#000" font-style="italic" textLength="40.5" lengthAdjust="spacingAndGlyphs" transform="rotate(-90 128.3 592.5)" >the Cliffs</text>
<text x="151" y="582.5" font-size="10.5" font-family="Liberation Serif, serif" fill="#000" font-style="italic" textLength="30.0" lengthAdjust="spacingAndGlyphs" transform="rotate(-90 151 582.5)" >On the</text>
<text x="160" y="582.3" font-size="10.5" font-family="Liberation Serif, serif" fill="#000" font-style="italic" textLength="28.7" lengthAdjust="spacingAndGlyphs" transform="rotate(-90 160 582.3)" >Ocean</text>
<text x="635" y="342.5" font-size="13" font-family="Liberation Serif, serif" fill="#0000ff" font-weight="bold" font-style="italic" textLength="58.0" lengthAdjust="spacingAndGlyphs" transform="rotate(-90 635 342.5)" stroke="#0000ff" stroke-width="0.3">Wildwood</text>
<text x="659" y="317.5" font-size="10.5" font-family="Liberation Serif, serif" fill="#000" font-style="italic" textLength="16.5" lengthAdjust="spacingAndGlyphs" transform="rotate(-90 659 317.5)" >The</text>
<text x="667.5" y="326" font-size="10.5" font-family="Liberation Serif, serif" fill="#000" font-style="italic" textLength="34" lengthAdjust="spacingAndGlyphs" transform="rotate(-90 667.5 326)" >Oceans</text>
<text x="676.3" y="320.5" font-size="10.5" font-family="Liberation Serif, serif" fill="#000" font-style="italic" textLength="22.0" lengthAdjust="spacingAndGlyphs" transform="rotate(-90 676.3 320.5)" >Edge</text>
<text x="655" y="414.5" font-size="10.5" font-family="Liberation Serif, serif" fill="#000" font-style="italic" textLength="29.0" lengthAdjust="spacingAndGlyphs" transform="rotate(-90 655 414.5)" >Ocean</text>
<text x="682" y="419" font-size="10.5" font-family="Liberation Serif, serif" fill="#000" font-style="italic" textLength="38" lengthAdjust="spacingAndGlyphs" transform="rotate(-90 682 419)" >Channel</text>
<text x="695.5" y="463" font-size="10.5" font-family="Liberation Serif, serif" fill="#000" font-style="italic" textLength="125" lengthAdjust="spacingAndGlyphs" transform="rotate(-90 695.5 463)" >On the Edge of the Swamp</text>
<text x="206" y="358" font-size="10.5" font-family="Liberation Serif, serif" fill="#000" font-style="italic" textLength="52.5" lengthAdjust="spacingAndGlyphs" >Ocean Cliff</text>
<text x="398" y="358" font-size="10.5" font-family="Liberation Serif, serif" fill="#000" font-style="italic" textLength="52" lengthAdjust="spacingAndGlyphs" >Ocean Cliff</text>
<text x="462" y="358" font-size="10.5" font-family="Liberation Serif, serif" fill="#000" font-style="italic" textLength="51.5" lengthAdjust="spacingAndGlyphs" >Ocean Cliff</text>
<text x="542" y="326" font-size="10.5" font-family="Liberation Serif, serif" fill="#000" font-style="italic" textLength="52" lengthAdjust="spacingAndGlyphs" >Ocean Cliff</text>
<text x="539" y="358" font-size="10.5" font-family="Liberation Serif, serif" fill="#000" font-style="italic" textLength="59" lengthAdjust="spacingAndGlyphs" >In the Ocean</text>
<text x="617" y="358" font-size="10.5" font-family="Liberation Serif, serif" fill="#000" font-style="italic" textLength="30.5" lengthAdjust="spacingAndGlyphs" >Near a</text>
<text x="617" y="384" font-size="10.5" font-family="Liberation Serif, serif" fill="#000" font-style="italic" textLength="31" lengthAdjust="spacingAndGlyphs" >Jungle</text>
<text x="552.5" y="418.5" font-size="10.5" font-family="Liberation Serif, serif" fill="#000" font-style="italic" textLength="63.0" lengthAdjust="spacingAndGlyphs" >On the Ocean</text>
<text x="609" y="462.5" font-size="10.5" font-family="Liberation Serif, serif" fill="#000" font-style="italic" textLength="30" lengthAdjust="spacingAndGlyphs" >On the</text>
<text x="610" y="472" font-size="10.5" font-family="Liberation Serif, serif" fill="#000" font-style="italic" textLength="28.5" lengthAdjust="spacingAndGlyphs" >Ocean</text>
<text x="528" y="498.5" font-size="10.5" font-family="Liberation Serif, serif" fill="#000" font-style="italic" textLength="103.5" lengthAdjust="spacingAndGlyphs" >Shark Infested Waters</text>
<text x="441" y="415" font-size="10.5" font-family="Liberation Serif, serif" fill="#000" font-style="italic" textLength="30.5" lengthAdjust="spacingAndGlyphs" >On the</text>
<text x="442" y="424" font-size="10.5" font-family="Liberation Serif, serif" fill="#000" font-style="italic" textLength="28" lengthAdjust="spacingAndGlyphs" >Ocean</text>
<text x="296" y="546.5" font-size="10.5" font-family="Liberation Serif, serif" fill="#000" font-style="italic" textLength="63" lengthAdjust="spacingAndGlyphs" >On the Ocean</text>
<text x="448.5" y="559" font-size="10.5" font-family="Liberation Serif, serif" fill="#000" font-style="italic" textLength="30.5" lengthAdjust="spacingAndGlyphs" >On the</text>
<text x="450" y="567.5" font-size="10.5" font-family="Liberation Serif, serif" fill="#000" font-style="italic" textLength="28" lengthAdjust="spacingAndGlyphs" >Ocean</text>
<text x="328.5" y="639.5" font-size="10.5" font-family="Liberation Serif, serif" fill="#000" font-style="italic" textLength="31.0" lengthAdjust="spacingAndGlyphs" >On the</text>
<text x="330" y="648.5" font-size="10.5" font-family="Liberation Serif, serif" fill="#000" font-style="italic" textLength="28" lengthAdjust="spacingAndGlyphs" >Ocean</text>
<text x="211" y="339.5" font-size="13" font-family="Liberation Serif, serif" fill="#0000ff" font-weight="bold" font-style="italic" textLength="138.5" lengthAdjust="spacingAndGlyphs" stroke="#0000ff" stroke-width="0.3">Highways / Great Wall</text>
<text x="322" y="371.4" font-size="13" font-family="Liberation Serif, serif" fill="#0000ff" font-weight="bold" font-style="italic" textLength="43.5" lengthAdjust="spacingAndGlyphs" stroke="#0000ff" stroke-width="0.3">Mervue</text>
<text x="434.5" y="334" font-size="13" font-family="Liberation Serif, serif" fill="#0000ff" font-weight="bold" font-style="italic" textLength="76.0" lengthAdjust="spacingAndGlyphs" stroke="#0000ff" stroke-width="0.3">The Shadow</text>
<text x="453" y="345" font-size="13" font-family="Liberation Serif, serif" fill="#0000ff" font-weight="bold" font-style="italic" textLength="39" lengthAdjust="spacingAndGlyphs" stroke="#0000ff" stroke-width="0.3">Forest</text>
<text x="288.0" y="419.6" font-size="13" font-family="Liberation Serif, serif" fill="#0000ff" font-weight="bold" font-style="italic" textLength="15" lengthAdjust="spacingAndGlyphs" stroke="#0000ff" stroke-width="0.3">00</text>
<text x="112.5" y="467" font-size="13" font-family="Liberation Serif, serif" fill="#0000ff" font-weight="bold" font-style="italic" textLength="15" lengthAdjust="spacingAndGlyphs" stroke="#0000ff" stroke-width="0.3">01</text>
<text x="112.5" y="531" font-size="13" font-family="Liberation Serif, serif" fill="#0000ff" font-weight="bold" font-style="italic" textLength="15" lengthAdjust="spacingAndGlyphs" stroke="#0000ff" stroke-width="0.3">02</text>
<text x="144.0" y="531" font-size="13" font-family="Liberation Serif, serif" fill="#0000ff" font-weight="bold" font-style="italic" textLength="15" lengthAdjust="spacingAndGlyphs" stroke="#0000ff" stroke-width="0.3">03</text>
<text x="176.0" y="563" font-size="13" font-family="Liberation Serif, serif" fill="#0000ff" font-weight="bold" font-style="italic" textLength="15" lengthAdjust="spacingAndGlyphs" stroke="#0000ff" stroke-width="0.3">04</text>
<text x="240.0" y="531" font-size="13" font-family="Liberation Serif, serif" fill="#0000ff" font-weight="bold" font-style="italic" textLength="15" lengthAdjust="spacingAndGlyphs" stroke="#0000ff" stroke-width="0.3">05</text>
<text x="272.0" y="595" font-size="13" font-family="Liberation Serif, serif" fill="#0000ff" font-weight="bold" font-style="italic" textLength="15" lengthAdjust="spacingAndGlyphs" stroke="#0000ff" stroke-width="0.3">06</text>
<text x="304.0" y="595" font-size="13" font-family="Liberation Serif, serif" fill="#0000ff" font-weight="bold" font-style="italic" textLength="15" lengthAdjust="spacingAndGlyphs" stroke="#0000ff" stroke-width="0.3">07</text>
<text x="304.0" y="627" font-size="13" font-family="Liberation Serif, serif" fill="#0000ff" font-weight="bold" font-style="italic" textLength="15" lengthAdjust="spacingAndGlyphs" stroke="#0000ff" stroke-width="0.3">08</text>
<text x="368.0" y="627" font-size="13" font-family="Liberation Serif, serif" fill="#0000ff" font-weight="bold" font-style="italic" textLength="15" lengthAdjust="spacingAndGlyphs" stroke="#0000ff" stroke-width="0.3">09</text>
<text x="368.5" y="595" font-size="13" font-family="Liberation Serif, serif" fill="#0000ff" font-weight="bold" font-style="italic" textLength="15" lengthAdjust="spacingAndGlyphs" stroke="#0000ff" stroke-width="0.3">10</text>
<text x="401.0" y="531" font-size="13" font-family="Liberation Serif, serif" fill="#0000ff" font-weight="bold" font-style="italic" textLength="15" lengthAdjust="spacingAndGlyphs" stroke="#0000ff" stroke-width="0.3">11</text>
<text x="432.5" y="595" font-size="13" font-family="Liberation Serif, serif" fill="#0000ff" font-weight="bold" font-style="italic" textLength="15" lengthAdjust="spacingAndGlyphs" stroke="#0000ff" stroke-width="0.3">12</text>
<text x="464.5" y="531" font-size="13" font-family="Liberation Serif, serif" fill="#0000ff" font-weight="bold" font-style="italic" textLength="15" lengthAdjust="spacingAndGlyphs" stroke="#0000ff" stroke-width="0.3">13</text>
<text x="497.0" y="499" font-size="13" font-family="Liberation Serif, serif" fill="#0000ff" font-weight="bold" font-style="italic" textLength="15" lengthAdjust="spacingAndGlyphs" stroke="#0000ff" stroke-width="0.3">14</text>
<text x="497.0" y="467" font-size="13" font-family="Liberation Serif, serif" fill="#0000ff" font-weight="bold" font-style="italic" textLength="15" lengthAdjust="spacingAndGlyphs" stroke="#0000ff" stroke-width="0.3">15</text>
<text x="560.5" y="435" font-size="13" font-family="Liberation Serif, serif" fill="#0000ff" font-weight="bold" font-style="italic" textLength="15" lengthAdjust="spacingAndGlyphs" stroke="#0000ff" stroke-width="0.3">16</text>
<text x="625.0" y="403" font-size="13" font-family="Liberation Serif, serif" fill="#0000ff" font-weight="bold" font-style="italic" textLength="15" lengthAdjust="spacingAndGlyphs" stroke="#0000ff" stroke-width="0.3">17</text>
<text x="384.5" y="451" font-size="13" font-family="Liberation Serif, serif" fill="#0000ff" font-weight="bold" font-style="italic" textLength="15" lengthAdjust="spacingAndGlyphs" stroke="#0000ff" stroke-width="0.3">18</text>
<text x="384.5" y="483" font-size="13" font-family="Liberation Serif, serif" fill="#0000ff" font-weight="bold" font-style="italic" textLength="15" lengthAdjust="spacingAndGlyphs" stroke="#0000ff" stroke-width="0.3">18</text>
<text x="48.3" y="627.3" font-size="12.5" font-family="Liberation Serif, serif" fill="#0000ff" font-weight="bold" font-style="italic" textLength="15" lengthAdjust="spacingAndGlyphs" stroke="#0000ff" stroke-width="0.3">00</text>
<text x="71.0" y="627.3" font-size="12.5" font-family="Liberation Serif, serif" fill="#0000ff" font-weight="bold" font-style="italic" textLength="54.7" lengthAdjust="spacingAndGlyphs" stroke="#0000ff" stroke-width="0.3">Antharia</text>
<text x="48.3" y="643.3" font-size="12.5" font-family="Liberation Serif, serif" fill="#0000ff" font-weight="bold" font-style="italic" textLength="15" lengthAdjust="spacingAndGlyphs" stroke="#0000ff" stroke-width="0.3">01</text>
<text x="71.0" y="643.3" font-size="12.5" font-family="Liberation Serif, serif" fill="#0000ff" font-weight="bold" font-style="italic" textLength="106.7" lengthAdjust="spacingAndGlyphs" stroke="#0000ff" stroke-width="0.3">Bloodsong Island</text>
<text x="48.3" y="659" font-size="12.5" font-family="Liberation Serif, serif" fill="#0000ff" font-weight="bold" font-style="italic" textLength="15" lengthAdjust="spacingAndGlyphs" stroke="#0000ff" stroke-width="0.3">02</text>
<text x="71.0" y="659" font-size="12.5" font-family="Liberation Serif, serif" fill="#0000ff" font-weight="bold" font-style="italic" textLength="48.3" lengthAdjust="spacingAndGlyphs" stroke="#0000ff" stroke-width="0.3">Nubrius</text>
<text x="48.3" y="675" font-size="12.5" font-family="Liberation Serif, serif" fill="#0000ff" font-weight="bold" font-style="italic" textLength="15" lengthAdjust="spacingAndGlyphs" stroke="#0000ff" stroke-width="0.3">03</text>
<text x="71.0" y="675" font-size="12.5" font-family="Liberation Serif, serif" fill="#0000ff" font-weight="bold" font-style="italic" textLength="98.3" lengthAdjust="spacingAndGlyphs" stroke="#0000ff" stroke-width="0.3">Greed's Gallows</text>
<text x="48.3" y="740" font-size="12.5" font-family="Liberation Serif, serif" fill="#0000ff" font-weight="bold" font-style="italic" textLength="15" lengthAdjust="spacingAndGlyphs" stroke="#0000ff" stroke-width="0.3">04</text>
<text x="71.0" y="740" font-size="12.5" font-family="Liberation Serif, serif" fill="#0000ff" font-weight="bold" font-style="italic" textLength="94" lengthAdjust="spacingAndGlyphs" stroke="#0000ff" stroke-width="0.3">Dream Steppes</text>
<text x="48.3" y="755.7" font-size="12.5" font-family="Liberation Serif, serif" fill="#0000ff" font-weight="bold" font-style="italic" textLength="15" lengthAdjust="spacingAndGlyphs" stroke="#0000ff" stroke-width="0.3">05</text>
<text x="71.0" y="755.7" font-size="12.5" font-family="Liberation Serif, serif" fill="#0000ff" font-weight="bold" font-style="italic" textLength="87.3" lengthAdjust="spacingAndGlyphs" stroke="#0000ff" stroke-width="0.3">Gorn's Anchor</text>
<text x="48.3" y="771.7" font-size="12.5" font-family="Liberation Serif, serif" fill="#0000ff" font-weight="bold" font-style="italic" textLength="15" lengthAdjust="spacingAndGlyphs" stroke="#0000ff" stroke-width="0.3">06</text>
<text x="71.0" y="771.7" font-size="12.5" font-family="Liberation Serif, serif" fill="#0000ff" font-weight="bold" font-style="italic" textLength="85" lengthAdjust="spacingAndGlyphs" stroke="#0000ff" stroke-width="0.3">Pyrrus Island</text>
<text x="48.3" y="787.3" font-size="12.5" font-family="Liberation Serif, serif" fill="#0000ff" font-weight="bold" font-style="italic" textLength="15" lengthAdjust="spacingAndGlyphs" stroke="#0000ff" stroke-width="0.3">07</text>
<text x="71.0" y="787.3" font-size="12.5" font-family="Liberation Serif, serif" fill="#0000ff" font-weight="bold" font-style="italic" textLength="74" lengthAdjust="spacingAndGlyphs" stroke="#0000ff" stroke-width="0.3">Tainted Isle</text>
<text x="272.7" y="739.8" font-size="12.5" font-family="Liberation Serif, serif" fill="#0000ff" font-weight="bold" font-style="italic" textLength="15" lengthAdjust="spacingAndGlyphs" stroke="#0000ff" stroke-width="0.3">08</text>
<text x="295.4" y="739.8" font-size="12.5" font-family="Liberation Serif, serif" fill="#0000ff" font-weight="bold" font-style="italic" textLength="56.6" lengthAdjust="spacingAndGlyphs" stroke="#0000ff" stroke-width="0.3">Padmasa</text>
<text x="272.7" y="755.7" font-size="12.5" font-family="Liberation Serif, serif" fill="#0000ff" font-weight="bold" font-style="italic" textLength="15" lengthAdjust="spacingAndGlyphs" stroke="#0000ff" stroke-width="0.3">09</text>
<text x="295.4" y="755.7" font-size="12.5" font-family="Liberation Serif, serif" fill="#0000ff" font-weight="bold" font-style="italic" textLength="76.6" lengthAdjust="spacingAndGlyphs" stroke="#0000ff" stroke-width="0.3">Tortuga Cay</text>
<text x="272.7" y="771.6" font-size="12.5" font-family="Liberation Serif, serif" fill="#0000ff" font-weight="bold" font-style="italic" textLength="15" lengthAdjust="spacingAndGlyphs" stroke="#0000ff" stroke-width="0.3">10</text>
<text x="295.4" y="771.6" font-size="12.5" font-family="Liberation Serif, serif" fill="#0000ff" font-weight="bold" font-style="italic" textLength="95" lengthAdjust="spacingAndGlyphs" stroke="#0000ff" stroke-width="0.3">Island of Utami</text>
<text x="272.7" y="787.4" font-size="12.5" font-family="Liberation Serif, serif" fill="#0000ff" font-weight="bold" font-style="italic" textLength="15" lengthAdjust="spacingAndGlyphs" stroke="#0000ff" stroke-width="0.3">11</text>
<text x="295.4" y="787.4" font-size="12.5" font-family="Liberation Serif, serif" fill="#0000ff" font-weight="bold" font-style="italic" textLength="113.3" lengthAdjust="spacingAndGlyphs" stroke="#0000ff" stroke-width="0.3">The Dragon's Atoll</text>
<text x="496.7" y="627.3" font-size="12.5" font-family="Liberation Serif, serif" fill="#0000ff" font-weight="bold" font-style="italic" textLength="15" lengthAdjust="spacingAndGlyphs" stroke="#0000ff" stroke-width="0.3">16</text>
<text x="519.4" y="627.3" font-size="12.5" font-family="Liberation Serif, serif" fill="#0000ff" font-weight="bold" font-style="italic" textLength="89" lengthAdjust="spacingAndGlyphs" stroke="#0000ff" stroke-width="0.3">Redtooth's Isle</text>
<text x="496.7" y="643.3" font-size="12.5" font-family="Liberation Serif, serif" fill="#0000ff" font-weight="bold" font-style="italic" textLength="15" lengthAdjust="spacingAndGlyphs" stroke="#0000ff" stroke-width="0.3">17</text>
<text x="519.4" y="643.3" font-size="12.5" font-family="Liberation Serif, serif" fill="#0000ff" font-weight="bold" font-style="italic" textLength="74.7" lengthAdjust="spacingAndGlyphs" stroke="#0000ff" stroke-width="0.3">Verdant Isle</text>
<text x="496.7" y="659" font-size="12.5" font-family="Liberation Serif, serif" fill="#0000ff" font-weight="bold" font-style="italic" textLength="15" lengthAdjust="spacingAndGlyphs" stroke="#0000ff" stroke-width="0.3">18</text>
<text x="519.4" y="659" font-size="12.5" font-family="Liberation Serif, serif" fill="#0000ff" font-weight="bold" font-style="italic" textLength="71.4" lengthAdjust="spacingAndGlyphs" stroke="#0000ff" stroke-width="0.3">S.S. Scurvy</text>
<text x="496.7" y="740" font-size="12.5" font-family="Liberation Serif, serif" fill="#0000ff" font-weight="bold" font-style="italic" textLength="15" lengthAdjust="spacingAndGlyphs" stroke="#0000ff" stroke-width="0.3">12</text>
<text x="519.4" y="740" font-size="12.5" font-family="Liberation Serif, serif" fill="#0000ff" font-weight="bold" font-style="italic" textLength="108.4" lengthAdjust="spacingAndGlyphs" stroke="#0000ff" stroke-width="0.3">Island of the Lost</text>
<text x="496.7" y="755.7" font-size="12.5" font-family="Liberation Serif, serif" fill="#0000ff" font-weight="bold" font-style="italic" textLength="15" lengthAdjust="spacingAndGlyphs" stroke="#0000ff" stroke-width="0.3">13</text>
<text x="519.4" y="755.7" font-size="12.5" font-family="Liberation Serif, serif" fill="#0000ff" font-weight="bold" font-style="italic" textLength="138.4" lengthAdjust="spacingAndGlyphs" stroke="#0000ff" stroke-width="0.3">Isle of NaamBres'Shho</text>
<text x="496.7" y="771.7" font-size="12.5" font-family="Liberation Serif, serif" fill="#0000ff" font-weight="bold" font-style="italic" textLength="15" lengthAdjust="spacingAndGlyphs" stroke="#0000ff" stroke-width="0.3">14</text>
<text x="519.4" y="771.7" font-size="12.5" font-family="Liberation Serif, serif" fill="#0000ff" font-weight="bold" font-style="italic" textLength="82.4" lengthAdjust="spacingAndGlyphs" stroke="#0000ff" stroke-width="0.3">Lizard Island</text>
<text x="496.7" y="787.3" font-size="12.5" font-family="Liberation Serif, serif" fill="#0000ff" font-weight="bold" font-style="italic" textLength="15" lengthAdjust="spacingAndGlyphs" stroke="#0000ff" stroke-width="0.3">15</text>
<text x="519.4" y="787.3" font-size="12.5" font-family="Liberation Serif, serif" fill="#0000ff" font-weight="bold" font-style="italic" textLength="96.4" lengthAdjust="spacingAndGlyphs" stroke="#0000ff" stroke-width="0.3">The Pirate Ship</text>
<g>
<path d="M360.3,179.1 C363.1,184.6 362.5,187.6 361.7,191.1 C363.3,186.1 368.8,186.1 368.3,191.1 C366.8,189.1 364.3,189.6 362.5,194.6 L361.90000000000003,197.6 L363.8,197.6 L363.8,199.6 L361.90000000000003,199.6 L361.8,203.6 L358.8,203.6 L358.7,199.6 L356.8,199.6 L356.8,197.6 L358.7,197.6 L358.1,194.6 C356.3,189.6 353.8,189.1 352.3,191.1 C351.8,186.1 357.3,186.1 358.90000000000003,191.1 C358.1,187.6 357.5,184.6 360.3,179.1 Z" fill="#000"/>
<path d="M360.3,291.1 L356.3,281.6 L359.1,284.1 L359.1,277.6 L361.5,277.6 L361.5,284.1 L364.3,281.6 Z" fill="#000"/>
<path d="M307.3,239.6 L316.8,235.6 L314.8,238.4 L322.3,238.4 L322.3,240.79999999999998 L314.8,240.79999999999998 L316.8,243.6 Z" fill="#000"/>
<path d="M412.8,239.6 L403.3,235.6 L405.3,238.4 L398.3,238.4 L398.3,240.79999999999998 L405.3,240.79999999999998 L403.3,243.6 Z" fill="#000"/>
<circle cx="360.3" cy="239.6" r="42" fill="#05051c"/>
<circle cx="360.3" cy="239.6" r="39" fill="#09094e"/>
<path d="M351.5,227.3 Q349.8,223.9 346.3,218.3" stroke="#1030b0" stroke-width="1.4" fill="none"/>
<path d="M335.5,225.4 Q333.5,223.9 329.6,220.3" stroke="#0c1c90" stroke-width="1.4" fill="none"/>
<path d="M346.5,245.7 Q344.3,247.7 340.0,247.6" stroke="#0820a0" stroke-width="1.8" fill="none"/>
<path d="M381.8,248.0 Q388.9,252.0 393.9,254.2" stroke="#2058e0" stroke-width="1.8" fill="none"/>
<path d="M382.3,232.1 Q387.8,232.2 391.4,230.4" stroke="#0820a0" stroke-width="1.4" fill="none"/>
<path d="M386.9,247.6 Q391.6,250.4 394.4,251.4" stroke="#0838c8" stroke-width="1.8" fill="none"/>
<path d="M337.9,233.8 Q334.0,232.9 328.1,229.8" stroke="#0820a0" stroke-width="1.4" fill="none"/>
<path d="M378.8,253.6 Q382.4,257.2 384.0,259.0" stroke="#1030b0" stroke-width="1.8" fill="none"/>
<path d="M346.0,235.2 Q344.0,234.9 340.0,232.4" stroke="#0820a0" stroke-width="1.4" fill="none"/>
<path d="M337.8,240.1 Q332.7,240.7 325.6,239.0" stroke="#0820a0" stroke-width="1.8" fill="none"/>
<path d="M342.0,228.7 Q339.7,227.1 335.5,223.4" stroke="#0820a0" stroke-width="1.4" fill="none"/>
<path d="M354.7,222.6 Q354.4,218.4 352.4,212.2" stroke="#080870" stroke-width="1.4" fill="none"/>
<path d="M378.5,221.5 Q382.8,220.0 385.3,216.6" stroke="#0c1c90" stroke-width="1.4" fill="none"/>
<path d="M375.6,253.6 Q380.6,259.0 383.5,262.7" stroke="#0838c8" stroke-width="1.8" fill="none"/>
<path d="M379.3,231.2 Q386.7,229.9 392.3,226.8" stroke="#0c1c90" stroke-width="1.4" fill="none"/>
<path d="M362.4,216.5 Q364.6,211.1 365.0,203.7" stroke="#1030b0" stroke-width="1.4" fill="none"/>
<path d="M349.8,256.1 Q347.7,261.1 343.4,263.9" stroke="#0820a0" stroke-width="1.8" fill="none"/>
<path d="M374.4,246.1 Q378.9,249.2 381.4,250.4" stroke="#1030b0" stroke-width="1.8" fill="none"/>
<path d="M383.7,249.0 Q389.7,252.6 393.5,254.5" stroke="#0820a0" stroke-width="1.8" fill="none"/>
<path d="M355.9,259.3 Q355.2,265.7 352.3,270.1" stroke="#1030b0" stroke-width="1.8" fill="none"/>
<path d="M378.6,232.4 Q384.9,231.9 389.2,229.6" stroke="#080870" stroke-width="1.4" fill="none"/>
<path d="M384.8,249.1 Q388.9,251.9 390.9,252.9" stroke="#0838c8" stroke-width="1.8" fill="none"/>
<path d="M337.3,256.8 Q334.2,260.0 329.0,261.1" stroke="#0838c8" stroke-width="1.8" fill="none"/>
<path d="M338.7,246.8 Q333.3,249.2 325.8,249.5" stroke="#0820a0" stroke-width="1.8" fill="none"/>
<path d="M372.4,225.7 Q376.8,223.5 379.4,219.4" stroke="#1030b0" stroke-width="1.4" fill="none"/>
<path d="M352.1,221.3 Q351.9,218.5 349.9,213.7" stroke="#0c1c90" stroke-width="1.4" fill="none"/>
<path d="M368.2,255.4 Q370.6,260.1 370.8,262.9" stroke="#0820a0" stroke-width="1.8" fill="none"/>
<path d="M368.6,224.8 Q371.9,222.4 373.4,218.1" stroke="#0820a0" stroke-width="1.4" fill="none"/>
<path d="M342.9,249.3 Q339.1,252.4 333.2,253.4" stroke="#0838c8" stroke-width="1.8" fill="none"/>
<path d="M352.2,218.9 Q351.7,214.6 349.4,208.2" stroke="#0c1c90" stroke-width="1.4" fill="none"/>
<path d="M333.4,247.1 Q329.4,248.8 323.3,248.4" stroke="#2058e0" stroke-width="1.8" fill="none"/>
<path d="M344.4,252.4 Q342.4,255.1 338.4,255.8" stroke="#0820a0" stroke-width="1.8" fill="none"/>
<path d="M374.2,245.3 Q378.6,248.2 381.0,249.1" stroke="#0838c8" stroke-width="1.8" fill="none"/>
<path d="M378.5,254.6 Q381.8,258.2 383.0,259.9" stroke="#2058e0" stroke-width="1.8" fill="none"/>
<path d="M369.4,252.3 Q372.6,257.2 373.8,260.1" stroke="#1030b0" stroke-width="1.8" fill="none"/>
<path d="M376.0,247.0 Q380.8,250.3 383.6,251.8" stroke="#1848d8" stroke-width="1.8" fill="none"/>
<path d="M383.0,233.1 Q388.9,233.3 392.8,231.7" stroke="#0c1c90" stroke-width="1.4" fill="none"/>
<path d="M377.7,215.3 Q381.6,213.4 383.6,209.6" stroke="#080870" stroke-width="1.4" fill="none"/>
<path d="M354.1,254.7 Q352.4,261.1 348.5,265.3" stroke="#1848d8" stroke-width="1.8" fill="none"/>
<path d="M335.5,243.0 Q331.4,244.0 325.3,242.9" stroke="#0838c8" stroke-width="1.8" fill="none"/>
<path d="M381.7,232.8 Q386.3,233.2 388.9,231.8" stroke="#0c1c90" stroke-width="1.4" fill="none"/>
<path d="M361.3,220.9 Q363.0,216.3 363.0,209.8" stroke="#0c1c90" stroke-width="1.4" fill="none"/>
<path d="M354.3,222.5 Q354.2,219.1 352.3,213.7" stroke="#0820a0" stroke-width="1.4" fill="none"/>
<path d="M349.5,253.4 Q346.9,258.2 342.2,260.9" stroke="#2058e0" stroke-width="1.8" fill="none"/>
<path d="M351.9,255.0 Q349.5,261.3 344.8,265.4" stroke="#0838c8" stroke-width="1.8" fill="none"/>
<path d="M369.7,214.2 Q373.1,210.3 374.8,204.5" stroke="#0820a0" stroke-width="1.4" fill="none"/>
<path d="M367.1,260.4 Q369.4,267.2 369.4,272.1" stroke="#1030b0" stroke-width="1.8" fill="none"/>
<path d="M365.7,218.7 Q368.1,216.2 368.7,211.7" stroke="#1030b0" stroke-width="1.4" fill="none"/>
<path d="M332.9,249.0 Q329.4,250.9 323.9,250.5" stroke="#1848d8" stroke-width="1.8" fill="none"/>
<path d="M374.0,247.2 Q379.0,250.9 382.0,252.8" stroke="#1848d8" stroke-width="1.8" fill="none"/>
<path d="M367.1,262.6 Q369.4,270.1 369.4,275.7" stroke="#1030b0" stroke-width="1.8" fill="none"/>
<path d="M336.1,242.7 Q330.8,243.9 323.6,242.9" stroke="#1030b0" stroke-width="1.8" fill="none"/>
<path d="M368.4,225.9 Q372.0,223.2 373.8,218.6" stroke="#0820a0" stroke-width="1.4" fill="none"/>
<path d="M343.6,241.9 Q338.4,243.3 331.3,242.5" stroke="#1848d8" stroke-width="1.8" fill="none"/>
<path d="M385.2,254.7 Q389.7,258.6 392.0,260.6" stroke="#0820a0" stroke-width="1.8" fill="none"/>
<path d="M336.6,256.5 Q333.6,259.5 328.5,260.4" stroke="#0838c8" stroke-width="1.8" fill="none"/>
<path d="M374.7,239.0 Q381.1,240.1 385.5,239.5" stroke="#0820a0" stroke-width="1.8" fill="none"/>
<path d="M366.0,224.3 Q369.6,219.5 371.4,212.9" stroke="#080870" stroke-width="1.4" fill="none"/>
<path d="M349.5,223.2 Q348.1,219.6 344.8,213.9" stroke="#0820a0" stroke-width="1.4" fill="none"/>
<path d="M386.8,243.2 Q393.3,245.6 397.7,246.2" stroke="#1030b0" stroke-width="1.8" fill="none"/>
<path d="M331.8,234.8 Q328.4,234.4 323.1,231.8" stroke="#0838c8" stroke-width="1.8" fill="none"/>
<path d="M368.3,224.2 Q371.5,221.8 372.9,217.5" stroke="#1030b0" stroke-width="1.4" fill="none"/>
<path d="M334.1,239.4 Q330.8,239.8 325.5,238.0" stroke="#2058e0" stroke-width="1.8" fill="none"/>
<path d="M346.2,247.4 Q341.2,251.3 334.1,252.9" stroke="#1848d8" stroke-width="1.8" fill="none"/>
<path d="M380.0,224.9 Q386.4,222.6 390.9,218.6" stroke="#080870" stroke-width="1.4" fill="none"/>
<path d="M373.4,214.8 Q376.6,213.0 377.9,209.2" stroke="#0820a0" stroke-width="1.4" fill="none"/>
<path d="M346.2,237.5 Q342.5,237.4 336.9,235.2" stroke="#0838c8" stroke-width="1.8" fill="none"/>
<path d="M339.8,222.9 Q338.4,221.2 335.1,217.4" stroke="#0820a0" stroke-width="1.4" fill="none"/>
<path d="M335.1,243.8 Q330.8,245.1 324.5,244.2" stroke="#1848d8" stroke-width="1.8" fill="none"/>
<path d="M351.0,219.1 Q350.5,215.4 348.1,209.6" stroke="#0c1c90" stroke-width="1.4" fill="none"/>
<path d="M371.4,229.6 Q375.4,228.4 377.6,225.3" stroke="#0c1c90" stroke-width="1.4" fill="none"/>
<path d="M363.4,217.7 Q365.7,213.6 366.1,207.5" stroke="#0c1c90" stroke-width="1.4" fill="none"/>
<path d="M338.0,247.9 Q334.1,250.1 328.1,250.1" stroke="#2058e0" stroke-width="1.8" fill="none"/>
<path d="M366.1,257.1 Q368.2,263.0 368.1,267.0" stroke="#0820a0" stroke-width="1.8" fill="none"/>
<path d="M342.4,238.7 Q338.3,239.0 332.3,237.1" stroke="#1848d8" stroke-width="1.8" fill="none"/>
<path d="M385.3,226.4 Q390.0,226.2 392.7,224.1" stroke="#080870" stroke-width="1.4" fill="none"/>
<path d="M370.7,251.7 Q374.5,256.6 376.1,259.6" stroke="#1030b0" stroke-width="1.8" fill="none"/>
<path d="M350.4,221.3 Q350.0,218.6 347.7,214.0" stroke="#1030b0" stroke-width="1.4" fill="none"/>
<path d="M366.3,211.9 Q368.7,209.5 369.2,205.1" stroke="#1030b0" stroke-width="1.4" fill="none"/>
<path d="M377.8,261.6 Q381.4,266.9 382.8,270.3" stroke="#0838c8" stroke-width="1.8" fill="none"/>
<path d="M360.0,224.1 Q361.3,218.6 360.8,211.0" stroke="#0820a0" stroke-width="1.4" fill="none"/>
<path d="M387.6,237.9 Q392.2,239.2 394.9,238.8" stroke="#0820a0" stroke-width="1.8" fill="none"/>
<path d="M380.7,238.8 Q386.4,240.2 390.1,239.7" stroke="#1848d8" stroke-width="1.8" fill="none"/>
<path d="M349.6,262.8 Q348.8,266.4 345.9,267.9" stroke="#2058e0" stroke-width="1.8" fill="none"/>
<path d="M335.9,246.1 Q332.4,247.7 326.8,247.1" stroke="#2058e0" stroke-width="1.8" fill="none"/>
<path d="M344.5,224.0 Q343.5,222.4 340.7,218.6" stroke="#0820a0" stroke-width="1.4" fill="none"/>
<path d="M375.7,236.8 Q380.8,237.5 383.9,236.3" stroke="#1030b0" stroke-width="1.8" fill="none"/>
<path d="M374.3,230.2 Q380.6,228.2 385.0,224.4" stroke="#080870" stroke-width="1.4" fill="none"/>
<path d="M374.8,219.5 Q380.2,215.5 383.8,209.7" stroke="#080870" stroke-width="1.4" fill="none"/>
<path d="M377.3,262.8 Q380.5,267.9 381.5,271.1" stroke="#1848d8" stroke-width="1.8" fill="none"/>
<path d="M372.9,247.6 Q378.6,252.0 382.1,254.6" stroke="#0820a0" stroke-width="1.8" fill="none"/>
<path d="M374.8,228.4 Q378.5,227.9 380.2,225.4" stroke="#0c1c90" stroke-width="1.4" fill="none"/>
<path d="M365.2,225.1 Q368.6,220.1 370.3,213.3" stroke="#0c1c90" stroke-width="1.4" fill="none"/>
<path d="M358.9,255.5 Q359.2,259.5 357.4,261.5" stroke="#2058e0" stroke-width="1.8" fill="none"/>
<path d="M335.4,253.8 Q332.0,256.5 326.5,257.0" stroke="#1030b0" stroke-width="1.8" fill="none"/>
<path d="M342.7,236.6 Q340.4,236.6 336.1,234.5" stroke="#0838c8" stroke-width="1.8" fill="none"/>
<path d="M359.0,256.5 Q359.1,264.1 356.8,269.8" stroke="#1848d8" stroke-width="1.8" fill="none"/>
<path d="M343.3,236.2 Q339.7,235.9 334.2,233.3" stroke="#0838c8" stroke-width="1.8" fill="none"/>
<path d="M356.8,266.2 Q356.5,272.7 353.9,277.1" stroke="#1030b0" stroke-width="1.8" fill="none"/>
<path d="M385.9,242.1 Q392.0,244.2 396.1,244.5" stroke="#0838c8" stroke-width="1.8" fill="none"/>
<path d="M342.4,238.0 Q338.7,238.1 333.0,236.0" stroke="#0820a0" stroke-width="1.8" fill="none"/>
<path d="M347.7,220.7 Q345.6,215.9 341.6,209.0" stroke="#1030b0" stroke-width="1.4" fill="none"/>
<path d="M349.0,212.1 Q349.0,209.0 347.2,203.9" stroke="#0820a0" stroke-width="1.4" fill="none"/>
<path d="M344.1,250.6 Q342.2,253.1 338.3,253.4" stroke="#0838c8" stroke-width="1.8" fill="none"/>
<path d="M384.2,241.7 Q391.6,243.9 397.0,244.4" stroke="#0820a0" stroke-width="1.8" fill="none"/>
<path d="M368.3,252.7 Q372.2,259.4 373.9,264.2" stroke="#2058e0" stroke-width="1.8" fill="none"/>
<path d="M351.4,223.3 Q350.9,220.7 348.6,215.9" stroke="#1030b0" stroke-width="1.4" fill="none"/>
<path d="M376.6,244.4 Q381.4,246.9 384.1,247.6" stroke="#1030b0" stroke-width="1.8" fill="none"/>
<path d="M357.9,268.9 Q357.8,274.1 355.6,277.3" stroke="#2058e0" stroke-width="1.8" fill="none"/>
<path d="M353.8,252.6 Q351.5,259.3 347.0,263.8" stroke="#0838c8" stroke-width="1.8" fill="none"/>
<path d="M401.4,242.4 L399.0,241.0 L398.8,243.5Z" fill="#e8dc50"/>
<path d="M400.6,248.0 L398.4,246.2 L397.9,248.7Z" fill="#e8dc50"/>
<path d="M399.1,253.4 L397.2,251.3 L396.3,253.8Z" fill="#e8dc50"/>
<path d="M396.9,258.6 L395.2,256.3 L394.1,258.5Z" fill="#e8dc50"/>
<path d="M394.0,263.4 L392.6,260.9 L391.2,262.9Z" fill="#e8dc50"/>
<path d="M390.4,267.7 L389.4,265.1 L387.7,266.9Z" fill="#e8dc50"/>
<path d="M386.3,271.6 L385.7,268.8 L383.7,270.4Z" fill="#e8dc50"/>
<path d="M381.7,274.8 L381.5,272.0 L379.3,273.3Z" fill="#e8dc50"/>
<path d="M376.7,277.4 L376.9,274.6 L374.5,275.6Z" fill="#e8dc50"/>
<path d="M371.4,279.3 L372.0,276.5 L369.5,277.2Z" fill="#e8dc50"/>
<path d="M365.9,280.4 L366.8,277.7 L364.3,278.1Z" fill="#e8dc50"/>
<path d="M360.3,280.8 L361.6,278.3 L359.0,278.3Z" fill="#e8dc50"/>
<path d="M354.7,280.4 L356.3,278.1 L353.8,277.7Z" fill="#e8dc50"/>
<path d="M349.2,279.3 L351.1,277.2 L348.6,276.5Z" fill="#e8dc50"/>
<path d="M343.9,277.4 L346.1,275.6 L343.7,274.6Z" fill="#e8dc50"/>
<path d="M338.9,274.8 L341.3,273.3 L339.1,272.0Z" fill="#e8dc50"/>
<path d="M334.3,271.6 L336.9,270.4 L334.9,268.8Z" fill="#e8dc50"/>
<path d="M330.2,267.7 L332.9,266.9 L331.2,265.1Z" fill="#e8dc50"/>
<path d="M326.6,263.4 L329.4,262.9 L328.0,260.9Z" fill="#e8dc50"/>
<path d="M323.7,258.6 L326.5,258.5 L325.4,256.3Z" fill="#e8dc50"/>
<path d="M321.5,253.4 L324.3,253.8 L323.4,251.3Z" fill="#e8dc50"/>
<path d="M320.0,248.0 L322.7,248.7 L322.2,246.2Z" fill="#e8dc50"/>
<path d="M319.2,242.4 L321.8,243.5 L321.6,241.0Z" fill="#e8dc50"/>
<path d="M319.2,236.8 L321.6,238.2 L321.8,235.7Z" fill="#e8dc50"/>
<path d="M320.0,231.2 L322.2,233.0 L322.7,230.5Z" fill="#e8dc50"/>
<path d="M321.5,225.8 L323.4,227.9 L324.3,225.4Z" fill="#e8dc50"/>
<path d="M323.7,220.6 L325.4,222.9 L326.5,220.7Z" fill="#e8dc50"/>
<path d="M326.6,215.8 L328.0,218.3 L329.4,216.3Z" fill="#e8dc50"/>
<path d="M330.2,211.5 L331.2,214.1 L332.9,212.3Z" fill="#e8dc50"/>
<path d="M334.3,207.6 L334.9,210.4 L336.9,208.8Z" fill="#e8dc50"/>
<path d="M338.9,204.4 L339.1,207.2 L341.3,205.9Z" fill="#e8dc50"/>
<path d="M343.9,201.8 L343.7,204.6 L346.1,203.6Z" fill="#e8dc50"/>
<path d="M349.2,199.9 L348.6,202.7 L351.1,202.0Z" fill="#e8dc50"/>
<path d="M354.7,198.8 L353.8,201.5 L356.3,201.1Z" fill="#e8dc50"/>
<path d="M360.3,198.4 L359.0,200.9 L361.6,200.9Z" fill="#e8dc50"/>
<path d="M365.9,198.8 L364.3,201.1 L366.8,201.5Z" fill="#e8dc50"/>
<path d="M371.4,199.9 L369.5,202.0 L372.0,202.7Z" fill="#e8dc50"/>
<path d="M376.7,201.8 L374.5,203.6 L376.9,204.6Z" fill="#e8dc50"/>
<path d="M381.7,204.4 L379.3,205.9 L381.5,207.2Z" fill="#e8dc50"/>
<path d="M386.3,207.6 L383.7,208.8 L385.7,210.4Z" fill="#e8dc50"/>
<path d="M390.4,211.5 L387.7,212.3 L389.4,214.1Z" fill="#e8dc50"/>
<path d="M394.0,215.8 L391.2,216.3 L392.6,218.3Z" fill="#e8dc50"/>
<path d="M396.9,220.6 L394.1,220.7 L395.2,222.9Z" fill="#e8dc50"/>
<path d="M399.1,225.8 L396.3,225.4 L397.2,227.9Z" fill="#e8dc50"/>
<path d="M400.6,231.2 L397.9,230.5 L398.4,233.0Z" fill="#e8dc50"/>
<path d="M401.4,236.8 L398.8,235.7 L399.0,238.2Z" fill="#e8dc50"/>
<path d="M360.3,239.6 L362.4,244.6 L388.5,251.3Z" fill="#9238cc" stroke="#2a2030" stroke-width="0.35"/>
<path d="M360.3,239.6 L365.3,237.5 L388.5,251.3Z" fill="#a040d8" stroke="#2a2030" stroke-width="0.35"/>
<path d="M360.3,239.6 L358.2,244.6 L372.0,267.8Z" fill="#9238cc" stroke="#2a2030" stroke-width="0.35"/>
<path d="M360.3,239.6 L365.3,241.7 L372.0,267.8Z" fill="#a040d8" stroke="#2a2030" stroke-width="0.35"/>
<path d="M360.3,239.6 L355.3,241.7 L348.6,267.8Z" fill="#9238cc" stroke="#2a2030" stroke-width="0.35"/>
<path d="M360.3,239.6 L362.4,244.6 L348.6,267.8Z" fill="#a040d8" stroke="#2a2030" stroke-width="0.35"/>
<path d="M360.3,239.6 L355.3,237.5 L332.1,251.3Z" fill="#9238cc" stroke="#2a2030" stroke-width="0.35"/>
<path d="M360.3,239.6 L358.2,244.6 L332.1,251.3Z" fill="#a040d8" stroke="#2a2030" stroke-width="0.35"/>
<path d="M360.3,239.6 L358.2,234.6 L332.1,227.9Z" fill="#9238cc" stroke="#2a2030" stroke-width="0.35"/>
<path d="M360.3,239.6 L355.3,241.7 L332.1,227.9Z" fill="#a040d8" stroke="#2a2030" stroke-width="0.35"/>
<path d="M360.3,239.6 L362.4,234.6 L348.6,211.4Z" fill="#9238cc" stroke="#2a2030" stroke-width="0.35"/>
<path d="M360.3,239.6 L355.3,237.5 L348.6,211.4Z" fill="#a040d8" stroke="#2a2030" stroke-width="0.35"/>
<path d="M360.3,239.6 L365.3,237.5 L372.0,211.4Z" fill="#9238cc" stroke="#2a2030" stroke-width="0.35"/>
<path d="M360.3,239.6 L358.2,234.6 L372.0,211.4Z" fill="#a040d8" stroke="#2a2030" stroke-width="0.35"/>
<path d="M360.3,239.6 L365.3,241.7 L388.5,227.9Z" fill="#9238cc" stroke="#2a2030" stroke-width="0.35"/>
<path d="M360.3,239.6 L362.4,234.6 L388.5,227.9Z" fill="#a040d8" stroke="#2a2030" stroke-width="0.35"/>
<path d="M360.3,239.6 L360.3,246.7 L387.5,266.8Z" fill="#8c8478" stroke="#2a2030" stroke-width="0.35"/>
<path d="M360.3,239.6 L367.4,239.6 L387.5,266.8Z" fill="#9c9c9c" stroke="#2a2030" stroke-width="0.35"/>
<path d="M360.3,239.6 L353.2,239.6 L332.7,267.2Z" fill="#c09038" stroke="#2a2030" stroke-width="0.35"/>
<path d="M360.3,239.6 L360.3,246.7 L332.7,267.2Z" fill="#909090" stroke="#2a2030" stroke-width="0.35"/>
<path d="M360.3,239.6 L360.3,232.5 L332.4,211.7Z" fill="#a4a4a4" stroke="#2a2030" stroke-width="0.35"/>
<path d="M360.3,239.6 L353.2,239.6 L332.4,211.7Z" fill="#a08860" stroke="#2a2030" stroke-width="0.35"/>
<path d="M360.3,239.6 L367.4,239.6 L388.6,211.3Z" fill="#c48c30" stroke="#2a2030" stroke-width="0.35"/>
<path d="M360.3,239.6 L360.3,232.5 L388.6,211.3Z" fill="#949494" stroke="#2a2030" stroke-width="0.35"/>
<path d="M360.3,239.6 L365.3,234.6 L360.3,204.1Z" fill="#d09020" stroke="#2a2030" stroke-width="0.35"/>
<path d="M360.3,239.6 L355.3,234.6 L360.3,204.1Z" fill="#8c6c5c" stroke="#2a2030" stroke-width="0.35"/>
<path d="M360.3,239.6 L365.3,244.6 L399.8,239.6Z" fill="#c88024" stroke="#2a2030" stroke-width="0.35"/>
<path d="M360.3,239.6 L365.3,234.6 L399.8,239.6Z" fill="#949494" stroke="#2a2030" stroke-width="0.35"/>
<path d="M360.3,239.6 L355.3,244.6 L360.3,277.6Z" fill="#b87c20" stroke="#2a2030" stroke-width="0.35"/>
<path d="M360.3,239.6 L365.3,244.6 L360.3,277.6Z" fill="#888888" stroke="#2a2030" stroke-width="0.35"/>
<path d="M360.3,239.6 L355.3,234.6 L321.3,239.6Z" fill="#8c8c8c" stroke="#2a2030" stroke-width="0.35"/>
<path d="M360.3,239.6 L355.3,244.6 L321.3,239.6Z" fill="#c88828" stroke="#2a2030" stroke-width="0.35"/>
<path d="M330.3,238.4 L352.3,236.6" stroke="#f0c060" stroke-width="1" fill="none"/>
<path d="M390.3,240.79999999999998 L368.3,242.6" stroke="#f0b040" stroke-width="1" fill="none"/>
<circle cx="360.3" cy="239.6" r="41.5" fill="none" stroke="#000" stroke-width="1"/>
</g>
<rect x="18" y="850" width="332" height="92" fill="#ccffff" stroke="#000" stroke-width="4"/>
<rect x="20" y="852" width="328" height="23.3" fill="#ffcccc"/>
<path d="M59,875.4 Q64,875.4 64,870.5 L64,860 Q64,856 68,856 L204,856 Q208,856 208,860 L208,870.5 Q208,875.4 213,875.4 L213,877 L59,877 Z" fill="#ccffff"/>
<text x="23.5" y="872" font-size="22.4" font-family="Liberation Sans, sans-serif" fill="#0000ff" textLength="36.3" lengthAdjust="spacingAndGlyphs" stroke="#0000ff" stroke-width="0.5">KEY</text>
<rect x="25.5" y="881.5" width="13" height="13" fill="#ffffcc" stroke="#008000" stroke-width="3"/>
<text x="43.8" y="891.7" font-size="10.5" font-family="Liberation Sans, sans-serif" fill="#000" textLength="23.2" lengthAdjust="spacingAndGlyphs" >Safe</text>
<rect x="25.5" y="901.5" width="13" height="13" fill="#ffffcc" stroke="#808000" stroke-width="3"/>
<text x="43.8" y="911.7" font-size="10.5" font-family="Liberation Sans, sans-serif" fill="#000" textLength="36.7" lengthAdjust="spacingAndGlyphs" >Private</text>
<rect x="25.5" y="921.5" width="13" height="13" fill="#ffffcc" stroke="#800000" stroke-width="3"/>
<text x="43.8" y="931.7" font-size="10.5" font-family="Liberation Sans, sans-serif" fill="#000" textLength="35.0" lengthAdjust="spacingAndGlyphs" >Cursed</text>
<rect x="90" y="860" width="16" height="16" fill="#ffffcc"/>
<circle cx="98" cy="868" r="7" fill="#ffffcc" stroke="#000" stroke-width="2"/>
<text x="109" y="871.7" font-size="10.5" font-family="Liberation Sans, sans-serif" fill="#000" textLength="83.5" lengthAdjust="spacingAndGlyphs" >Exits Randomized</text>
<rect x="91" y="881" width="14" height="14" fill="#00ee00" stroke="#000" stroke-width="2"/>
<text x="110" y="891.7" font-size="10.5" font-family="Liberation Sans, sans-serif" fill="#000" textLength="22.5" lengthAdjust="spacingAndGlyphs" >Land</text>
<rect x="91" y="901" width="14" height="14" fill="#00ffff" stroke="#000" stroke-width="2"/>
<text x="110" y="911.7" font-size="10.5" font-family="Liberation Sans, sans-serif" fill="#000" textLength="28.3" lengthAdjust="spacingAndGlyphs" >Water</text>
<rect x="91" y="921" width="14" height="14" fill="#ffffff" stroke="#000" stroke-width="2"/>
<text x="110" y="931.7" font-size="10.5" font-family="Liberation Sans, sans-serif" fill="#000" textLength="12.5" lengthAdjust="spacingAndGlyphs" >Air</text>
<rect x="148" y="880" width="16" height="16" fill="#ffffcc"/>
<path d="M155,880 L155,888.5 M148,887.5 L155,887.5" stroke="#000" stroke-width="2" fill="none"/>
<path d="M155,887.5 L163.5,895.5" stroke="#000" stroke-width="2.8" fill="none"/>
<text x="168" y="891.7" font-size="10.5" font-family="Liberation Sans, sans-serif" fill="#000" textLength="35" lengthAdjust="spacingAndGlyphs" >Exit: Up</text>
<rect x="148" y="900" width="16" height="16" fill="#ffffcc"/>
<path d="M155,900 L155,908.5 M148,907.5 L155,907.5" stroke="#000" stroke-width="2" fill="none"/>
<path d="M155,907.5 L163.5,915.5" stroke="#000" stroke-width="3.6" fill="none"/>
<path d="M156.3,908.8 L162.8,914.8" stroke="#fff" stroke-width="1.5" fill="none"/>
<text x="168" y="911.7" font-size="10.5" font-family="Liberation Sans, sans-serif" fill="#000" textLength="47" lengthAdjust="spacingAndGlyphs" >Exit: Down</text>
<rect x="148" y="920" width="16" height="16" fill="#ffffcc"/>
<path d="M155,920 L155,928.5 M148,927.5 L155,927.5" stroke="#000" stroke-width="2" fill="none"/>
<path d="M155,927.5 L163.5,935.5" stroke="#a03000" stroke-width="2.8" fill="none"/>
<text x="168" y="931.7" font-size="10.5" font-family="Liberation Sans, sans-serif" fill="#000" textLength="57.3" lengthAdjust="spacingAndGlyphs" >Exit: Magical</text>
<rect x="233.5" y="880" width="16.5" height="16" fill="#ffffcc"/>
<path d="M234,888 L250,888" stroke="#000" stroke-width="2" fill="none"/>
<path d="M241.5,884 L241.5,892" stroke="#000" stroke-width="2" fill="none"/>
<text x="254" y="891.7" font-size="10.5" font-family="Liberation Sans, sans-serif" fill="#000" textLength="89.4" lengthAdjust="spacingAndGlyphs" >Door without Lock</text>
<rect x="233.5" y="900" width="16.5" height="16" fill="#ffffcc"/>
<path d="M234,908 L250,908" stroke="#000" stroke-width="2" fill="none"/>
<path d="M241.5,904 L241.5,912" stroke="#ff00ff" stroke-width="2" fill="none"/>
<text x="254" y="911.7" font-size="10.5" font-family="Liberation Sans, sans-serif" fill="#000" textLength="71" lengthAdjust="spacingAndGlyphs" >Door with Lock</text>
<rect x="233.5" y="920" width="16.5" height="16" fill="#ffffcc"/>
<path d="M234,928 L250,928" stroke="#000" stroke-width="2" fill="none"/>
<path d="M250.5,928 L245,924 L245,932 Z" fill="#000"/>
<text x="254" y="931.7" font-size="10.5" font-family="Liberation Sans, sans-serif" fill="#000" textLength="61" lengthAdjust="spacingAndGlyphs" >One-Way Only</text>
<text x="242.5" y="863" font-size="9.5" font-family="Liberation Sans, sans-serif" fill="#0000ff" textLength="101.8" lengthAdjust="spacingAndGlyphs" >map created 2006 by</text>
<text x="242.5" y="871.5" font-size="9.5" font-family="Liberation Sans, sans-serif" fill="#0000ff" textLength="101" lengthAdjust="spacingAndGlyphs" >David Edward Garber</text>
<rect x="214.6" y="856.6" width="12.3" height="10.6" fill="#ffcccc" stroke="#0000ff" stroke-width="1.3"/>
<rect x="212.5" y="856.5" width="3.2" height="3" rx="0.8" fill="#ffffcc" stroke="#0000ff" stroke-width="1.2"/>
<rect x="213.6" y="867.7" width="14.8" height="3.8" rx="1.2" fill="#ffcccc" stroke="#0000ff" stroke-width="1.3"/>
<rect x="214.5" y="868.9" width="2" height="1.6" fill="#ffffcc"/>
<path d="M217.5,861 L224,860.3 M217.500,863.3 L223.5,863 M219.5,859.5 L218.500,865 M222.500,859.300 L222,864.5 M217.5,865 L219.500,863.5" stroke="#0000ff" stroke-width="1.1" fill="none"/>
<path d="M238.3,856.3 C234.5,858.5 233.3,862 232.8,866.5" stroke="#1818e8" stroke-width="1.2" fill="none"/>
<path d="M238.3,856.3 C238.8,860 236.800,863 233.5,865" stroke="#6a6aff" stroke-width="1.1" fill="none" stroke-dasharray="1.2 0.8"/>
<path d="M230.5,872 L236,872 L235.6,870 L234.2,867.5 L232.300,867.5 L231,870 Z" fill="#000080"/>
<rect x="370" y="850" width="332" height="92" fill="#ccffff" stroke="#000" stroke-width="4"/>
<path d="M372,852 L432.5,852 L432.5,871 Q432.5,876 427.5,876 L372,876 Z" fill="#ffcccc"/>
<path d="M432.5,852 L438,852 Q432.5,852 432.5,858 Z" fill="#ffcccc"/>
<path d="M700,852 L687.5,852 L687.5,870 Q687.5,875 692.5,875 L700,875 Z" fill="#ffcccc"/>
<path d="M687.5,852 L682,852 Q687.5,852 687.5,858 Z" fill="#ffcccc"/>
<path d="M532.3,940 L532.3,884.500 Q532.3,881 536,881 Q539.7,881 539.7,884.5 L539.7,940 Z" fill="#ffcccc"/>
<circle cx="536" cy="886" r="2" fill="#0000ff"/>
<circle cx="536" cy="898" r="2" fill="#0000ff"/>
<circle cx="536" cy="910" r="2" fill="#0000ff"/>
<circle cx="536" cy="922" r="2" fill="#0000ff"/>
<circle cx="536" cy="934" r="2" fill="#0000ff"/>
<text x="375.5" y="862.5" font-size="9.5" font-family="Liberation Sans, sans-serif" fill="#0000ff" textLength="52.5" lengthAdjust="spacingAndGlyphs" >Points of</text>
<text x="375.5" y="872" font-size="9.5" font-family="Liberation Sans, sans-serif" fill="#0000ff" textLength="52.5" lengthAdjust="spacingAndGlyphs" >Interest</text>
<text x="446" y="863.5" font-size="11" font-family="Liberation Mono, monospace" fill="#000" textLength="36.5" lengthAdjust="spacingAndGlyphs" stroke="#000" stroke-width="0.25">Healer</text>
<text x="497.5" y="863.5" font-size="11" font-family="Liberation Mono, monospace" fill="#000" textLength="41.5" lengthAdjust="spacingAndGlyphs" stroke="#000" stroke-width="0.25">Trainer</text>
<text x="552.5" y="863.5" font-size="11" font-family="Liberation Mono, monospace" fill="#000" textLength="71.0" lengthAdjust="spacingAndGlyphs" stroke="#000" stroke-width="0.25">Shop(keeper)</text>
<text x="637.5" y="863.5" font-size="11" font-family="Liberation Mono, monospace" fill="#000" textLength="47.5" lengthAdjust="spacingAndGlyphs" stroke="#000" stroke-width="0.25">Bank(er)</text>
<text x="451.5" y="875.7" font-size="11" font-family="Liberation Mono, monospace" fill="#000" textLength="48.5" lengthAdjust="spacingAndGlyphs" stroke="#000" stroke-width="0.25">Fountain</text>
<text x="519" y="875.7" font-size="11" font-family="Liberation Mono, monospace" fill="#000" textLength="19.5" lengthAdjust="spacingAndGlyphs" stroke="#000" stroke-width="0.25">Key</text>
<text x="558.5" y="875.7" font-size="11" font-family="Liberation Mono, monospace" fill="#000" textLength="119.0" lengthAdjust="spacingAndGlyphs" stroke="#000" stroke-width="0.25">Quest Character/Item</text>
<text x="388" y="911.3" font-size="11" font-family="Liberation Mono, monospace" fill="#000" textLength="32.8" lengthAdjust="spacingAndGlyphs" stroke="#000" stroke-width="0.25">Shark</text>
<text x="555.6" y="911.3" font-size="11" font-family="Liberation Mono, monospace" fill="#000" textLength="104.4" lengthAdjust="spacingAndGlyphs" stroke="#000" stroke-width="0.25">Giant Sea Squid</text>
<rect x="436" y="856" width="8" height="8" fill="#ffffcc"/><path d="M439.8,856.8 L439.8,863.6 M436.4,860.2 L443.2,860.2" stroke="#900000" stroke-width="2.2" fill="none"/>
<rect x="487.500" y="855.5" width="8" height="8.5" fill="#ffffcc"/><path d="M488.500,856.5 L494.3,856.5 L494.3,860.3 Q494.3,862.800 491.400,864 Q488.5,862.8 488.5,860.3 Z" fill="#ffe0a0" stroke="#d07010" stroke-width="1.3"/><rect x="490.2" y="858.2" width="2.4" height="2" fill="#d07010"/>
<rect x="544" y="855.5" width="8" height="8.5" fill="#ffffcc"/><path d="M545,858.3 L551.5,858.3 M544.800,861.700 L551,861.7" stroke="#a09020" stroke-width="1.8" fill="none"/><path d="M544.3,858.3 L546.5,856.5 L546.5,860.1 Z M552,861.7 L549.800,859.9 L549.8,863.5 Z" fill="#a09020"/>
<rect x="627" y="855" width="9" height="9" fill="#ffffcc"/>
<text x="631.5" y="863.5" font-size="10" font-family="Liberation Sans, sans-serif" fill="#008000" font-weight="bold" text-anchor="middle" >$</text>
<path d="M443,875 L449,875 L448,872 L450,871 Q446,866 442,871 L444,872 Z" fill="#000080"/>
<rect x="509.5" y="867.500" width="9" height="8" fill="#ffffcc"/><circle cx="512.3" cy="871.5" r="1.9" fill="none" stroke="#a000a0" stroke-width="1.5"/><path d="M514,871.5 L518.3,871.5 M516.800,871.5 L516.8,873.5" stroke="#a000a0" stroke-width="1.5" fill="none"/>
<rect x="549" y="867" width="8" height="9" fill="#ffffcc"/>
<text x="553" y="875.5" font-size="10" font-family="Liberation Sans, sans-serif" fill="#808080" font-weight="bold" text-anchor="middle" >?</text>
<text x="690" y="855.5" font-size="9.8" font-family="Liberation Sans, sans-serif" fill="#0000ff" textLength="6.5" lengthAdjust="spacingAndGlyphs" transform="rotate(90 690 855.5)" >N</text>
<path d="M694,863.500 L694,868 M691.5,865 L696.5,865" stroke="#0000ff" stroke-width="1.5" fill="none"/><path d="M694,867.5 L697,870.5 L694,873.5 L691,870.5 Z" fill="none" stroke="#0000ff" stroke-width="1.6"/>
<rect x="376" y="904" width="8" height="8" fill="#00ffff"/>
<rect x="378" y="904.8" width="4" height="6.4" rx="1" fill="none" stroke="#000" stroke-width="2"/>
<rect x="544" y="904" width="8" height="8" fill="#00ffff"/>
<path d="M547.2,904 L549.2,904 L549.2,910.5 L550,910.5 L550,912 L546,912 L546,910.5 L547.2,910.5 L547.2,906.2 L546,906.2 L546,905 Z" fill="#000"/>
</svg>
</body></html>
